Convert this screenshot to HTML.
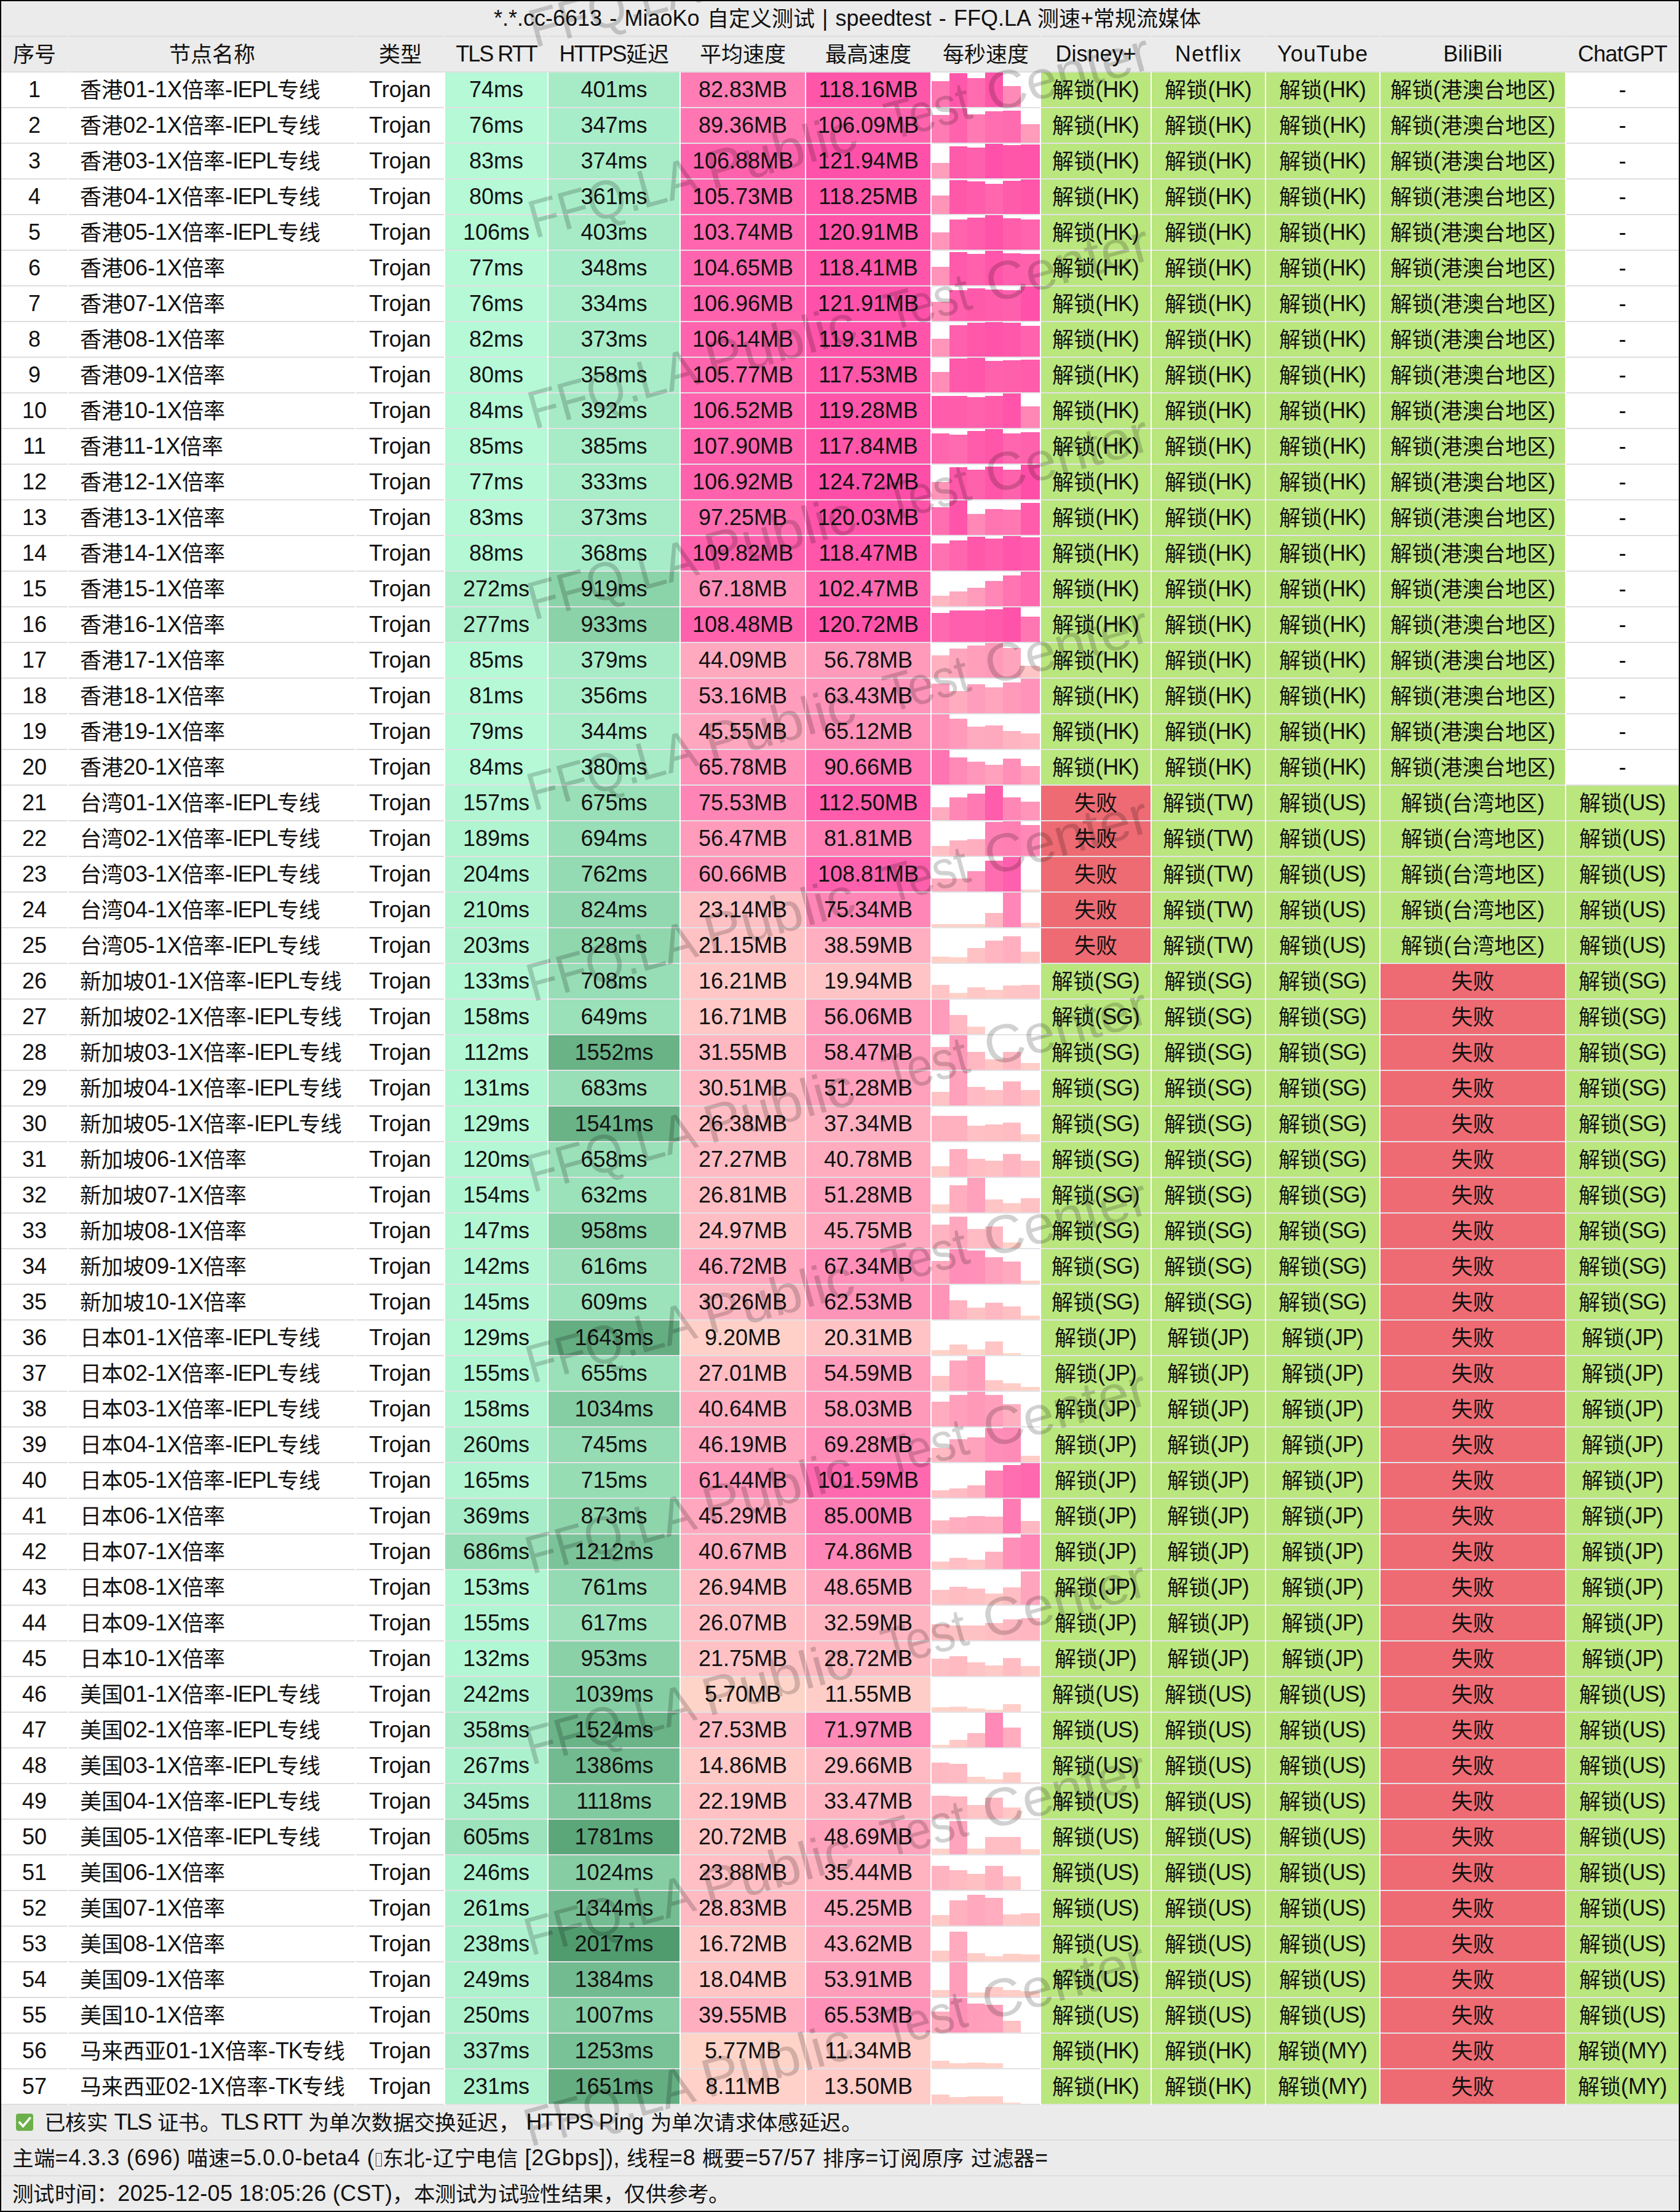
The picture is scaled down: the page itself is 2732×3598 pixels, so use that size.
<!DOCTYPE html><html lang="zh-CN"><head><meta charset="utf-8"><title>speedtest</title><style>
html,body{margin:0;padding:0;background:#000}
#p{position:relative;width:2732px;height:3598px;background:#000;overflow:hidden;font-family:"Liberation Sans",sans-serif;font-size:36px;color:#111;line-height:56px;white-space:nowrap}
#p div{position:absolute}
.g{left:2px;width:2728px;background:#ebebeb}
.w{left:2px;width:2728px;background:#fff;height:58px}
.c{height:56px;text-align:center}
.l{height:2px;background:#dedede}
.n{text-align:left}
.b{bottom:0}
i{font-style:normal;font-size:35px;position:relative;top:1px}
.f i{font-size:34.5px}
b{font-weight:normal;letter-spacing:-1.3px}
u{text-decoration:none;letter-spacing:-2px}
.wm{font-size:79px;line-height:80px;color:rgba(0,0,0,.18);transform-origin:0 100%;transform:rotate(-14.2deg);letter-spacing:3.2px}
</style></head><body><div id="p">
<div class="g" style="top:2px;height:116px"></div>
<div class="w" style="top:118px;height:3306px"></div>
<div class="g" style="top:3424px;height:172px"></div>
<div class="c n" style="left:803px;top:2px;word-spacing:2.2px">*.*.cc-6613 - MiaoKo <i>自定义测试</i> | speedtest - FFQ.LA <i>测速</i>+<i>常规流媒体</i></div>
<div class="l" style="left:2px;width:108px;top:58px;background:#dedede"></div>
<div class="l" style="left:112px;width:465px;top:58px;background:#dedede"></div>
<div class="l" style="left:579px;width:143px;top:58px;background:#dedede"></div>
<div class="l" style="left:724px;width:166px;top:58px;background:#dedede"></div>
<div class="l" style="left:892px;width:213px;top:58px;background:#dedede"></div>
<div class="l" style="left:1107px;width:202px;top:58px;background:#dedede"></div>
<div class="l" style="left:1311px;width:202px;top:58px;background:#dedede"></div>
<div class="l" style="left:1515px;width:176px;top:58px;background:#dedede"></div>
<div class="l" style="left:1693px;width:178px;top:58px;background:#dedede"></div>
<div class="l" style="left:1873px;width:184px;top:58px;background:#dedede"></div>
<div class="l" style="left:2059px;width:184px;top:58px;background:#dedede"></div>
<div class="l" style="left:2245px;width:300px;top:58px;background:#dedede"></div>
<div class="l" style="left:2547px;width:183px;top:58px;background:#dedede"></div>
<div class="c" style="left:2px;width:108px;top:60px"><i>序号</i></div>
<div class="c" style="left:112px;width:465px;top:60px"><i>节点名称</i></div>
<div class="c" style="left:579px;width:143px;top:60px"><i>类型</i></div>
<div class="c" style="left:724px;width:166px;top:60px"><u>TLS RTT</u></div>
<div class="c" style="left:892px;width:213px;top:60px"><u>HTTPS</u><i>延迟</i></div>
<div class="c" style="left:1107px;width:202px;top:60px"><i>平均速度</i></div>
<div class="c" style="left:1311px;width:202px;top:60px"><i>最高速度</i></div>
<div class="c" style="left:1515px;width:176px;top:60px"><i>每秒速度</i></div>
<div class="c" style="left:1693px;width:178px;top:60px">Disney+</div>
<div class="c" style="left:1873px;width:184px;top:60px;letter-spacing:1.2px">Netflix</div>
<div class="c" style="left:2059px;width:184px;top:60px;letter-spacing:0.9px">YouTube</div>
<div class="c" style="left:2245px;width:300px;top:60px">BiliBili</div>
<div class="c" style="left:2547px;width:183px;top:60px;letter-spacing:-0.7px">ChatGPT</div>
<div class="l" style="left:2px;width:108px;top:116px;background:#dedede"></div>
<div class="l" style="left:112px;width:465px;top:116px;background:#dedede"></div>
<div class="l" style="left:579px;width:143px;top:116px;background:#dedede"></div>
<div class="l" style="left:724px;width:166px;top:116px;background:#dedede"></div>
<div class="l" style="left:892px;width:213px;top:116px;background:#dedede"></div>
<div class="l" style="left:1107px;width:202px;top:116px;background:#dedede"></div>
<div class="l" style="left:1311px;width:202px;top:116px;background:#dedede"></div>
<div class="l" style="left:1515px;width:176px;top:116px;background:#dedede"></div>
<div class="l" style="left:1693px;width:178px;top:116px;background:#dedede"></div>
<div class="l" style="left:1873px;width:184px;top:116px;background:#dedede"></div>
<div class="l" style="left:2059px;width:184px;top:116px;background:#dedede"></div>
<div class="l" style="left:2245px;width:300px;top:116px;background:#dedede"></div>
<div class="l" style="left:2547px;width:183px;top:116px;background:#dedede"></div>
<div class="c" style="left:2px;width:108px;top:118px">1</div>
<div class="l" style="left:2px;width:108px;top:174px;background:#dedede"></div>
<div class="c n" style="left:112px;width:465px;top:118px;padding-left:18px;width:447px"><i>香港</i>01-1X<i>倍率</i>-<b>IEPL</b><i>专线</i></div>
<div class="l" style="left:112px;width:465px;top:174px;background:#dedede"></div>
<div class="c" style="left:579px;width:143px;top:118px">Trojan</div>
<div class="l" style="left:579px;width:143px;top:174px;background:#dedede"></div>
<div class="c" style="left:724px;width:166px;top:118px;background:#b5f9d6">74ms</div>
<div class="l" style="left:724px;width:166px;top:174px;background:#e3e1e6"></div>
<div class="c" style="left:892px;width:213px;top:118px;background:#a6ebc6">401ms</div>
<div class="l" style="left:892px;width:213px;top:174px;background:#e3e1e6"></div>
<div class="c" style="left:1107px;width:202px;top:118px;background:#ff7db4">82.83MB</div>
<div class="l" style="left:1107px;width:202px;top:174px;background:#e3e1e6"></div>
<div class="c" style="left:1311px;width:202px;top:118px;background:#ff56aa">118.16MB</div>
<div class="l" style="left:1311px;width:202px;top:174px;background:#e3e1e6"></div>
<div class="c" style="left:1515px;width:176px;top:118px">
<div class="b" style="left:0px;width:29px;height:42px;background:#ff77b2"></div>
<div class="b" style="left:29px;width:29px;height:55px;background:#ff58ab"></div>
<div class="b" style="left:58px;width:29px;height:47px;background:#ff6baf"></div>
<div class="b" style="left:87px;width:29px;height:56px;background:#ff56aa"></div>
<div class="b" style="left:116px;width:29px;height:34px;background:#ff8ab7"></div>
</div>
<div class="l" style="left:1515px;width:176px;top:174px;background:#e3e1e6"></div>
<div class="c" style="left:1693px;width:178px;top:118px;background:#bae67e"><i>解锁</i>(<b>HK</b>)</div>
<div class="l" style="left:1693px;width:178px;top:174px;background:#e3e1e6"></div>
<div class="c" style="left:1873px;width:184px;top:118px;background:#bae67e"><i>解锁</i>(<b>HK</b>)</div>
<div class="l" style="left:1873px;width:184px;top:174px;background:#e3e1e6"></div>
<div class="c" style="left:2059px;width:184px;top:118px;background:#bae67e"><i>解锁</i>(<b>HK</b>)</div>
<div class="l" style="left:2059px;width:184px;top:174px;background:#e3e1e6"></div>
<div class="c" style="left:2245px;width:300px;top:118px;background:#bae67e"><i>解锁</i>(<i>港澳台地区</i>)</div>
<div class="l" style="left:2245px;width:300px;top:174px;background:#e3e1e6"></div>
<div class="c" style="left:2547px;width:183px;top:118px">-</div>
<div class="l" style="left:2547px;width:183px;top:174px;background:#dedede"></div>
<div class="c" style="left:2px;width:108px;top:176px">2</div>
<div class="l" style="left:2px;width:108px;top:232px;background:#dedede"></div>
<div class="c n" style="left:112px;width:465px;top:176px;padding-left:18px;width:447px"><i>香港</i>02-1X<i>倍率</i>-<b>IEPL</b><i>专线</i></div>
<div class="l" style="left:112px;width:465px;top:232px;background:#dedede"></div>
<div class="c" style="left:579px;width:143px;top:176px">Trojan</div>
<div class="l" style="left:579px;width:143px;top:232px;background:#dedede"></div>
<div class="c" style="left:724px;width:166px;top:176px;background:#b5f9d6">76ms</div>
<div class="l" style="left:724px;width:166px;top:232px;background:#e3e1e6"></div>
<div class="c" style="left:892px;width:213px;top:176px;background:#a8edc9">347ms</div>
<div class="l" style="left:892px;width:213px;top:232px;background:#e3e1e6"></div>
<div class="c" style="left:1107px;width:202px;top:176px;background:#ff76b2">89.36MB</div>
<div class="l" style="left:1107px;width:202px;top:232px;background:#e3e1e6"></div>
<div class="c" style="left:1311px;width:202px;top:176px;background:#ff63ad">106.09MB</div>
<div class="l" style="left:1311px;width:202px;top:232px;background:#e3e1e6"></div>
<div class="c" style="left:1515px;width:176px;top:176px">
<div class="b" style="left:0px;width:29px;height:45px;background:#ff7bb3"></div>
<div class="b" style="left:29px;width:29px;height:56px;background:#ff63ad"></div>
<div class="b" style="left:58px;width:29px;height:46px;background:#ff79b3"></div>
<div class="b" style="left:87px;width:29px;height:51px;background:#ff6eb0"></div>
<div class="b" style="left:116px;width:29px;height:52px;background:#ff6baf"></div>
<div class="b" style="left:145px;width:31px;height:30px;background:#ff9bbb"></div>
</div>
<div class="l" style="left:1515px;width:176px;top:232px;background:#e3e1e6"></div>
<div class="c" style="left:1693px;width:178px;top:176px;background:#bae67e"><i>解锁</i>(<b>HK</b>)</div>
<div class="l" style="left:1693px;width:178px;top:232px;background:#e3e1e6"></div>
<div class="c" style="left:1873px;width:184px;top:176px;background:#bae67e"><i>解锁</i>(<b>HK</b>)</div>
<div class="l" style="left:1873px;width:184px;top:232px;background:#e3e1e6"></div>
<div class="c" style="left:2059px;width:184px;top:176px;background:#bae67e"><i>解锁</i>(<b>HK</b>)</div>
<div class="l" style="left:2059px;width:184px;top:232px;background:#e3e1e6"></div>
<div class="c" style="left:2245px;width:300px;top:176px;background:#bae67e"><i>解锁</i>(<i>港澳台地区</i>)</div>
<div class="l" style="left:2245px;width:300px;top:232px;background:#e3e1e6"></div>
<div class="c" style="left:2547px;width:183px;top:176px">-</div>
<div class="l" style="left:2547px;width:183px;top:232px;background:#dedede"></div>
<div class="c" style="left:2px;width:108px;top:234px">3</div>
<div class="l" style="left:2px;width:108px;top:290px;background:#dedede"></div>
<div class="c n" style="left:112px;width:465px;top:234px;padding-left:18px;width:447px"><i>香港</i>03-1X<i>倍率</i>-<b>IEPL</b><i>专线</i></div>
<div class="l" style="left:112px;width:465px;top:290px;background:#dedede"></div>
<div class="c" style="left:579px;width:143px;top:234px">Trojan</div>
<div class="l" style="left:579px;width:143px;top:290px;background:#dedede"></div>
<div class="c" style="left:724px;width:166px;top:234px;background:#b5f9d6">83ms</div>
<div class="l" style="left:724px;width:166px;top:290px;background:#e3e1e6"></div>
<div class="c" style="left:892px;width:213px;top:234px;background:#a7ecc7">374ms</div>
<div class="l" style="left:892px;width:213px;top:290px;background:#e3e1e6"></div>
<div class="c" style="left:1107px;width:202px;top:234px;background:#ff62ad">106.88MB</div>
<div class="l" style="left:1107px;width:202px;top:290px;background:#e3e1e6"></div>
<div class="c" style="left:1311px;width:202px;top:234px;background:#ff51a9">121.94MB</div>
<div class="l" style="left:1311px;width:202px;top:290px;background:#e3e1e6"></div>
<div class="c" style="left:1515px;width:176px;top:234px">
<div class="b" style="left:0px;width:29px;height:25px;background:#ff9ebc"></div>
<div class="b" style="left:29px;width:29px;height:52px;background:#ff5bab"></div>
<div class="b" style="left:58px;width:29px;height:50px;background:#ff60ad"></div>
<div class="b" style="left:87px;width:29px;height:56px;background:#ff51a9"></div>
<div class="b" style="left:116px;width:29px;height:54px;background:#ff56aa"></div>
<div class="b" style="left:145px;width:31px;height:55px;background:#ff54aa"></div>
</div>
<div class="l" style="left:1515px;width:176px;top:290px;background:#e3e1e6"></div>
<div class="c" style="left:1693px;width:178px;top:234px;background:#bae67e"><i>解锁</i>(<b>HK</b>)</div>
<div class="l" style="left:1693px;width:178px;top:290px;background:#e3e1e6"></div>
<div class="c" style="left:1873px;width:184px;top:234px;background:#bae67e"><i>解锁</i>(<b>HK</b>)</div>
<div class="l" style="left:1873px;width:184px;top:290px;background:#e3e1e6"></div>
<div class="c" style="left:2059px;width:184px;top:234px;background:#bae67e"><i>解锁</i>(<b>HK</b>)</div>
<div class="l" style="left:2059px;width:184px;top:290px;background:#e3e1e6"></div>
<div class="c" style="left:2245px;width:300px;top:234px;background:#bae67e"><i>解锁</i>(<i>港澳台地区</i>)</div>
<div class="l" style="left:2245px;width:300px;top:290px;background:#e3e1e6"></div>
<div class="c" style="left:2547px;width:183px;top:234px">-</div>
<div class="l" style="left:2547px;width:183px;top:290px;background:#dedede"></div>
<div class="c" style="left:2px;width:108px;top:292px">4</div>
<div class="l" style="left:2px;width:108px;top:348px;background:#dedede"></div>
<div class="c n" style="left:112px;width:465px;top:292px;padding-left:18px;width:447px"><i>香港</i>04-1X<i>倍率</i>-<b>IEPL</b><i>专线</i></div>
<div class="l" style="left:112px;width:465px;top:348px;background:#dedede"></div>
<div class="c" style="left:579px;width:143px;top:292px">Trojan</div>
<div class="l" style="left:579px;width:143px;top:348px;background:#dedede"></div>
<div class="c" style="left:724px;width:166px;top:292px;background:#b5f9d6">80ms</div>
<div class="l" style="left:724px;width:166px;top:348px;background:#e3e1e6"></div>
<div class="c" style="left:892px;width:213px;top:292px;background:#a8edc8">361ms</div>
<div class="l" style="left:892px;width:213px;top:348px;background:#e3e1e6"></div>
<div class="c" style="left:1107px;width:202px;top:292px;background:#ff64ad">105.73MB</div>
<div class="l" style="left:1107px;width:202px;top:348px;background:#e3e1e6"></div>
<div class="c" style="left:1311px;width:202px;top:292px;background:#ff56aa">118.25MB</div>
<div class="l" style="left:1311px;width:202px;top:348px;background:#e3e1e6"></div>
<div class="c" style="left:1515px;width:176px;top:292px">
<div class="b" style="left:0px;width:29px;height:30px;background:#ff94b9"></div>
<div class="b" style="left:29px;width:29px;height:55px;background:#ff58ab"></div>
<div class="b" style="left:58px;width:29px;height:53px;background:#ff5dac"></div>
<div class="b" style="left:87px;width:29px;height:49px;background:#ff66ae"></div>
<div class="b" style="left:116px;width:29px;height:54px;background:#ff5bab"></div>
<div class="b" style="left:145px;width:31px;height:56px;background:#ff56aa"></div>
</div>
<div class="l" style="left:1515px;width:176px;top:348px;background:#e3e1e6"></div>
<div class="c" style="left:1693px;width:178px;top:292px;background:#bae67e"><i>解锁</i>(<b>HK</b>)</div>
<div class="l" style="left:1693px;width:178px;top:348px;background:#e3e1e6"></div>
<div class="c" style="left:1873px;width:184px;top:292px;background:#bae67e"><i>解锁</i>(<b>HK</b>)</div>
<div class="l" style="left:1873px;width:184px;top:348px;background:#e3e1e6"></div>
<div class="c" style="left:2059px;width:184px;top:292px;background:#bae67e"><i>解锁</i>(<b>HK</b>)</div>
<div class="l" style="left:2059px;width:184px;top:348px;background:#e3e1e6"></div>
<div class="c" style="left:2245px;width:300px;top:292px;background:#bae67e"><i>解锁</i>(<i>港澳台地区</i>)</div>
<div class="l" style="left:2245px;width:300px;top:348px;background:#e3e1e6"></div>
<div class="c" style="left:2547px;width:183px;top:292px">-</div>
<div class="l" style="left:2547px;width:183px;top:348px;background:#dedede"></div>
<div class="c" style="left:2px;width:108px;top:350px">5</div>
<div class="l" style="left:2px;width:108px;top:406px;background:#dedede"></div>
<div class="c n" style="left:112px;width:465px;top:350px;padding-left:18px;width:447px"><i>香港</i>05-1X<i>倍率</i>-<b>IEPL</b><i>专线</i></div>
<div class="l" style="left:112px;width:465px;top:406px;background:#dedede"></div>
<div class="c" style="left:579px;width:143px;top:350px">Trojan</div>
<div class="l" style="left:579px;width:143px;top:406px;background:#dedede"></div>
<div class="c" style="left:724px;width:166px;top:350px;background:#b4f8d4">106ms</div>
<div class="l" style="left:724px;width:166px;top:406px;background:#e3e1e6"></div>
<div class="c" style="left:892px;width:213px;top:350px;background:#a6ebc6">403ms</div>
<div class="l" style="left:892px;width:213px;top:406px;background:#e3e1e6"></div>
<div class="c" style="left:1107px;width:202px;top:350px;background:#ff66ae">103.74MB</div>
<div class="l" style="left:1107px;width:202px;top:406px;background:#e3e1e6"></div>
<div class="c" style="left:1311px;width:202px;top:350px;background:#ff53a9">120.91MB</div>
<div class="l" style="left:1311px;width:202px;top:406px;background:#e3e1e6"></div>
<div class="c" style="left:1515px;width:176px;top:350px">
<div class="b" style="left:0px;width:29px;height:28px;background:#ff96ba"></div>
<div class="b" style="left:29px;width:29px;height:49px;background:#ff64ad"></div>
<div class="b" style="left:58px;width:29px;height:52px;background:#ff5cac"></div>
<div class="b" style="left:87px;width:29px;height:56px;background:#ff53a9"></div>
<div class="b" style="left:116px;width:29px;height:51px;background:#ff5eac"></div>
<div class="b" style="left:145px;width:31px;height:49px;background:#ff64ad"></div>
</div>
<div class="l" style="left:1515px;width:176px;top:406px;background:#e3e1e6"></div>
<div class="c" style="left:1693px;width:178px;top:350px;background:#bae67e"><i>解锁</i>(<b>HK</b>)</div>
<div class="l" style="left:1693px;width:178px;top:406px;background:#e3e1e6"></div>
<div class="c" style="left:1873px;width:184px;top:350px;background:#bae67e"><i>解锁</i>(<b>HK</b>)</div>
<div class="l" style="left:1873px;width:184px;top:406px;background:#e3e1e6"></div>
<div class="c" style="left:2059px;width:184px;top:350px;background:#bae67e"><i>解锁</i>(<b>HK</b>)</div>
<div class="l" style="left:2059px;width:184px;top:406px;background:#e3e1e6"></div>
<div class="c" style="left:2245px;width:300px;top:350px;background:#bae67e"><i>解锁</i>(<i>港澳台地区</i>)</div>
<div class="l" style="left:2245px;width:300px;top:406px;background:#e3e1e6"></div>
<div class="c" style="left:2547px;width:183px;top:350px">-</div>
<div class="l" style="left:2547px;width:183px;top:406px;background:#dedede"></div>
<div class="c" style="left:2px;width:108px;top:408px">6</div>
<div class="l" style="left:2px;width:108px;top:464px;background:#dedede"></div>
<div class="c n" style="left:112px;width:465px;top:408px;padding-left:18px;width:447px"><i>香港</i>06-1X<i>倍率</i></div>
<div class="l" style="left:112px;width:465px;top:464px;background:#dedede"></div>
<div class="c" style="left:579px;width:143px;top:408px">Trojan</div>
<div class="l" style="left:579px;width:143px;top:464px;background:#dedede"></div>
<div class="c" style="left:724px;width:166px;top:408px;background:#b5f9d6">77ms</div>
<div class="l" style="left:724px;width:166px;top:464px;background:#e3e1e6"></div>
<div class="c" style="left:892px;width:213px;top:408px;background:#a8edc9">348ms</div>
<div class="l" style="left:892px;width:213px;top:464px;background:#e3e1e6"></div>
<div class="c" style="left:1107px;width:202px;top:408px;background:#ff65ae">104.65MB</div>
<div class="l" style="left:1107px;width:202px;top:464px;background:#e3e1e6"></div>
<div class="c" style="left:1311px;width:202px;top:408px;background:#ff55aa">118.41MB</div>
<div class="l" style="left:1311px;width:202px;top:464px;background:#e3e1e6"></div>
<div class="c" style="left:1515px;width:176px;top:408px">
<div class="b" style="left:0px;width:29px;height:30px;background:#ff93b9"></div>
<div class="b" style="left:29px;width:29px;height:54px;background:#ff5aab"></div>
<div class="b" style="left:58px;width:29px;height:51px;background:#ff61ad"></div>
<div class="b" style="left:87px;width:29px;height:56px;background:#ff55aa"></div>
<div class="b" style="left:116px;width:29px;height:52px;background:#ff5fac"></div>
<div class="b" style="left:145px;width:31px;height:51px;background:#ff61ad"></div>
</div>
<div class="l" style="left:1515px;width:176px;top:464px;background:#e3e1e6"></div>
<div class="c" style="left:1693px;width:178px;top:408px;background:#bae67e"><i>解锁</i>(<b>HK</b>)</div>
<div class="l" style="left:1693px;width:178px;top:464px;background:#e3e1e6"></div>
<div class="c" style="left:1873px;width:184px;top:408px;background:#bae67e"><i>解锁</i>(<b>HK</b>)</div>
<div class="l" style="left:1873px;width:184px;top:464px;background:#e3e1e6"></div>
<div class="c" style="left:2059px;width:184px;top:408px;background:#bae67e"><i>解锁</i>(<b>HK</b>)</div>
<div class="l" style="left:2059px;width:184px;top:464px;background:#e3e1e6"></div>
<div class="c" style="left:2245px;width:300px;top:408px;background:#bae67e"><i>解锁</i>(<i>港澳台地区</i>)</div>
<div class="l" style="left:2245px;width:300px;top:464px;background:#e3e1e6"></div>
<div class="c" style="left:2547px;width:183px;top:408px">-</div>
<div class="l" style="left:2547px;width:183px;top:464px;background:#dedede"></div>
<div class="c" style="left:2px;width:108px;top:466px">7</div>
<div class="l" style="left:2px;width:108px;top:522px;background:#dedede"></div>
<div class="c n" style="left:112px;width:465px;top:466px;padding-left:18px;width:447px"><i>香港</i>07-1X<i>倍率</i></div>
<div class="l" style="left:112px;width:465px;top:522px;background:#dedede"></div>
<div class="c" style="left:579px;width:143px;top:466px">Trojan</div>
<div class="l" style="left:579px;width:143px;top:522px;background:#dedede"></div>
<div class="c" style="left:724px;width:166px;top:466px;background:#b5f9d6">76ms</div>
<div class="l" style="left:724px;width:166px;top:522px;background:#e3e1e6"></div>
<div class="c" style="left:892px;width:213px;top:466px;background:#a9eec9">334ms</div>
<div class="l" style="left:892px;width:213px;top:522px;background:#e3e1e6"></div>
<div class="c" style="left:1107px;width:202px;top:466px;background:#ff62ad">106.96MB</div>
<div class="l" style="left:1107px;width:202px;top:522px;background:#e3e1e6"></div>
<div class="c" style="left:1311px;width:202px;top:466px;background:#ff51a9">121.91MB</div>
<div class="l" style="left:1311px;width:202px;top:522px;background:#e3e1e6"></div>
<div class="c" style="left:1515px;width:176px;top:466px">
<div class="b" style="left:0px;width:29px;height:31px;background:#ff8fb8"></div>
<div class="b" style="left:29px;width:29px;height:50px;background:#ff5fac"></div>
<div class="b" style="left:58px;width:29px;height:53px;background:#ff59ab"></div>
<div class="b" style="left:87px;width:29px;height:51px;background:#ff5dac"></div>
<div class="b" style="left:116px;width:29px;height:50px;background:#ff60ad"></div>
<div class="b" style="left:145px;width:31px;height:56px;background:#ff51a9"></div>
</div>
<div class="l" style="left:1515px;width:176px;top:522px;background:#e3e1e6"></div>
<div class="c" style="left:1693px;width:178px;top:466px;background:#bae67e"><i>解锁</i>(<b>HK</b>)</div>
<div class="l" style="left:1693px;width:178px;top:522px;background:#e3e1e6"></div>
<div class="c" style="left:1873px;width:184px;top:466px;background:#bae67e"><i>解锁</i>(<b>HK</b>)</div>
<div class="l" style="left:1873px;width:184px;top:522px;background:#e3e1e6"></div>
<div class="c" style="left:2059px;width:184px;top:466px;background:#bae67e"><i>解锁</i>(<b>HK</b>)</div>
<div class="l" style="left:2059px;width:184px;top:522px;background:#e3e1e6"></div>
<div class="c" style="left:2245px;width:300px;top:466px;background:#bae67e"><i>解锁</i>(<i>港澳台地区</i>)</div>
<div class="l" style="left:2245px;width:300px;top:522px;background:#e3e1e6"></div>
<div class="c" style="left:2547px;width:183px;top:466px">-</div>
<div class="l" style="left:2547px;width:183px;top:522px;background:#dedede"></div>
<div class="c" style="left:2px;width:108px;top:524px">8</div>
<div class="l" style="left:2px;width:108px;top:580px;background:#dedede"></div>
<div class="c n" style="left:112px;width:465px;top:524px;padding-left:18px;width:447px"><i>香港</i>08-1X<i>倍率</i></div>
<div class="l" style="left:112px;width:465px;top:580px;background:#dedede"></div>
<div class="c" style="left:579px;width:143px;top:524px">Trojan</div>
<div class="l" style="left:579px;width:143px;top:580px;background:#dedede"></div>
<div class="c" style="left:724px;width:166px;top:524px;background:#b5f9d6">82ms</div>
<div class="l" style="left:724px;width:166px;top:580px;background:#e3e1e6"></div>
<div class="c" style="left:892px;width:213px;top:524px;background:#a7ecc7">373ms</div>
<div class="l" style="left:892px;width:213px;top:580px;background:#e3e1e6"></div>
<div class="c" style="left:1107px;width:202px;top:524px;background:#ff63ad">106.14MB</div>
<div class="l" style="left:1107px;width:202px;top:580px;background:#e3e1e6"></div>
<div class="c" style="left:1311px;width:202px;top:524px;background:#ff54aa">119.31MB</div>
<div class="l" style="left:1311px;width:202px;top:580px;background:#e3e1e6"></div>
<div class="c" style="left:1515px;width:176px;top:524px">
<div class="b" style="left:0px;width:29px;height:29px;background:#ff95b9"></div>
<div class="b" style="left:29px;width:29px;height:51px;background:#ff60ad"></div>
<div class="b" style="left:58px;width:29px;height:55px;background:#ff57aa"></div>
<div class="b" style="left:87px;width:29px;height:56px;background:#ff54aa"></div>
<div class="b" style="left:116px;width:29px;height:55px;background:#ff57aa"></div>
<div class="b" style="left:145px;width:31px;height:50px;background:#ff63ad"></div>
</div>
<div class="l" style="left:1515px;width:176px;top:580px;background:#e3e1e6"></div>
<div class="c" style="left:1693px;width:178px;top:524px;background:#bae67e"><i>解锁</i>(<b>HK</b>)</div>
<div class="l" style="left:1693px;width:178px;top:580px;background:#e3e1e6"></div>
<div class="c" style="left:1873px;width:184px;top:524px;background:#bae67e"><i>解锁</i>(<b>HK</b>)</div>
<div class="l" style="left:1873px;width:184px;top:580px;background:#e3e1e6"></div>
<div class="c" style="left:2059px;width:184px;top:524px;background:#bae67e"><i>解锁</i>(<b>HK</b>)</div>
<div class="l" style="left:2059px;width:184px;top:580px;background:#e3e1e6"></div>
<div class="c" style="left:2245px;width:300px;top:524px;background:#bae67e"><i>解锁</i>(<i>港澳台地区</i>)</div>
<div class="l" style="left:2245px;width:300px;top:580px;background:#e3e1e6"></div>
<div class="c" style="left:2547px;width:183px;top:524px">-</div>
<div class="l" style="left:2547px;width:183px;top:580px;background:#dedede"></div>
<div class="c" style="left:2px;width:108px;top:582px">9</div>
<div class="l" style="left:2px;width:108px;top:638px;background:#dedede"></div>
<div class="c n" style="left:112px;width:465px;top:582px;padding-left:18px;width:447px"><i>香港</i>09-1X<i>倍率</i></div>
<div class="l" style="left:112px;width:465px;top:638px;background:#dedede"></div>
<div class="c" style="left:579px;width:143px;top:582px">Trojan</div>
<div class="l" style="left:579px;width:143px;top:638px;background:#dedede"></div>
<div class="c" style="left:724px;width:166px;top:582px;background:#b5f9d6">80ms</div>
<div class="l" style="left:724px;width:166px;top:638px;background:#e3e1e6"></div>
<div class="c" style="left:892px;width:213px;top:582px;background:#a8edc8">358ms</div>
<div class="l" style="left:892px;width:213px;top:638px;background:#e3e1e6"></div>
<div class="c" style="left:1107px;width:202px;top:582px;background:#ff64ad">105.77MB</div>
<div class="l" style="left:1107px;width:202px;top:638px;background:#e3e1e6"></div>
<div class="c" style="left:1311px;width:202px;top:582px;background:#ff56aa">117.53MB</div>
<div class="l" style="left:1311px;width:202px;top:638px;background:#e3e1e6"></div>
<div class="c" style="left:1515px;width:176px;top:582px">
<div class="b" style="left:0px;width:29px;height:33px;background:#ff8db7"></div>
<div class="b" style="left:29px;width:29px;height:55px;background:#ff59ab"></div>
<div class="b" style="left:58px;width:29px;height:56px;background:#ff56aa"></div>
<div class="b" style="left:87px;width:29px;height:51px;background:#ff62ad"></div>
<div class="b" style="left:116px;width:29px;height:52px;background:#ff60ac"></div>
<div class="b" style="left:145px;width:31px;height:53px;background:#ff5dac"></div>
</div>
<div class="l" style="left:1515px;width:176px;top:638px;background:#e3e1e6"></div>
<div class="c" style="left:1693px;width:178px;top:582px;background:#bae67e"><i>解锁</i>(<b>HK</b>)</div>
<div class="l" style="left:1693px;width:178px;top:638px;background:#e3e1e6"></div>
<div class="c" style="left:1873px;width:184px;top:582px;background:#bae67e"><i>解锁</i>(<b>HK</b>)</div>
<div class="l" style="left:1873px;width:184px;top:638px;background:#e3e1e6"></div>
<div class="c" style="left:2059px;width:184px;top:582px;background:#bae67e"><i>解锁</i>(<b>HK</b>)</div>
<div class="l" style="left:2059px;width:184px;top:638px;background:#e3e1e6"></div>
<div class="c" style="left:2245px;width:300px;top:582px;background:#bae67e"><i>解锁</i>(<i>港澳台地区</i>)</div>
<div class="l" style="left:2245px;width:300px;top:638px;background:#e3e1e6"></div>
<div class="c" style="left:2547px;width:183px;top:582px">-</div>
<div class="l" style="left:2547px;width:183px;top:638px;background:#dedede"></div>
<div class="c" style="left:2px;width:108px;top:640px">10</div>
<div class="l" style="left:2px;width:108px;top:696px;background:#dedede"></div>
<div class="c n" style="left:112px;width:465px;top:640px;padding-left:18px;width:447px"><i>香港</i>10-1X<i>倍率</i></div>
<div class="l" style="left:112px;width:465px;top:696px;background:#dedede"></div>
<div class="c" style="left:579px;width:143px;top:640px">Trojan</div>
<div class="l" style="left:579px;width:143px;top:696px;background:#dedede"></div>
<div class="c" style="left:724px;width:166px;top:640px;background:#b5f9d6">84ms</div>
<div class="l" style="left:724px;width:166px;top:696px;background:#e3e1e6"></div>
<div class="c" style="left:892px;width:213px;top:640px;background:#a6ebc6">392ms</div>
<div class="l" style="left:892px;width:213px;top:696px;background:#e3e1e6"></div>
<div class="c" style="left:1107px;width:202px;top:640px;background:#ff63ad">106.52MB</div>
<div class="l" style="left:1107px;width:202px;top:696px;background:#e3e1e6"></div>
<div class="c" style="left:1311px;width:202px;top:640px;background:#ff54aa">119.28MB</div>
<div class="l" style="left:1311px;width:202px;top:696px;background:#e3e1e6"></div>
<div class="c" style="left:1515px;width:176px;top:640px">
<div class="b" style="left:0px;width:29px;height:52px;background:#ff5dac"></div>
<div class="b" style="left:29px;width:29px;height:52px;background:#ff5dac"></div>
<div class="b" style="left:58px;width:29px;height:50px;background:#ff62ad"></div>
<div class="b" style="left:87px;width:29px;height:52px;background:#ff5dac"></div>
<div class="b" style="left:116px;width:29px;height:56px;background:#ff54aa"></div>
<div class="b" style="left:145px;width:31px;height:35px;background:#ff87b6"></div>
</div>
<div class="l" style="left:1515px;width:176px;top:696px;background:#e3e1e6"></div>
<div class="c" style="left:1693px;width:178px;top:640px;background:#bae67e"><i>解锁</i>(<b>HK</b>)</div>
<div class="l" style="left:1693px;width:178px;top:696px;background:#e3e1e6"></div>
<div class="c" style="left:1873px;width:184px;top:640px;background:#bae67e"><i>解锁</i>(<b>HK</b>)</div>
<div class="l" style="left:1873px;width:184px;top:696px;background:#e3e1e6"></div>
<div class="c" style="left:2059px;width:184px;top:640px;background:#bae67e"><i>解锁</i>(<b>HK</b>)</div>
<div class="l" style="left:2059px;width:184px;top:696px;background:#e3e1e6"></div>
<div class="c" style="left:2245px;width:300px;top:640px;background:#bae67e"><i>解锁</i>(<i>港澳台地区</i>)</div>
<div class="l" style="left:2245px;width:300px;top:696px;background:#e3e1e6"></div>
<div class="c" style="left:2547px;width:183px;top:640px">-</div>
<div class="l" style="left:2547px;width:183px;top:696px;background:#dedede"></div>
<div class="c" style="left:2px;width:108px;top:698px">11</div>
<div class="l" style="left:2px;width:108px;top:754px;background:#dedede"></div>
<div class="c n" style="left:112px;width:465px;top:698px;padding-left:18px;width:447px"><i>香港</i>11-1X<i>倍率</i></div>
<div class="l" style="left:112px;width:465px;top:754px;background:#dedede"></div>
<div class="c" style="left:579px;width:143px;top:698px">Trojan</div>
<div class="l" style="left:579px;width:143px;top:754px;background:#dedede"></div>
<div class="c" style="left:724px;width:166px;top:698px;background:#b5f9d6">85ms</div>
<div class="l" style="left:724px;width:166px;top:754px;background:#e3e1e6"></div>
<div class="c" style="left:892px;width:213px;top:698px;background:#a7ecc7">385ms</div>
<div class="l" style="left:892px;width:213px;top:754px;background:#e3e1e6"></div>
<div class="c" style="left:1107px;width:202px;top:698px;background:#ff61ad">107.90MB</div>
<div class="l" style="left:1107px;width:202px;top:754px;background:#e3e1e6"></div>
<div class="c" style="left:1311px;width:202px;top:698px;background:#ff56aa">117.84MB</div>
<div class="l" style="left:1311px;width:202px;top:754px;background:#e3e1e6"></div>
<div class="c" style="left:1515px;width:176px;top:698px">
<div class="b" style="left:0px;width:29px;height:49px;background:#ff66ae"></div>
<div class="b" style="left:29px;width:29px;height:47px;background:#ff6baf"></div>
<div class="b" style="left:58px;width:29px;height:53px;background:#ff5dac"></div>
<div class="b" style="left:87px;width:29px;height:56px;background:#ff56aa"></div>
<div class="b" style="left:116px;width:29px;height:49px;background:#ff66ae"></div>
<div class="b" style="left:145px;width:31px;height:51px;background:#ff62ad"></div>
</div>
<div class="l" style="left:1515px;width:176px;top:754px;background:#e3e1e6"></div>
<div class="c" style="left:1693px;width:178px;top:698px;background:#bae67e"><i>解锁</i>(<b>HK</b>)</div>
<div class="l" style="left:1693px;width:178px;top:754px;background:#e3e1e6"></div>
<div class="c" style="left:1873px;width:184px;top:698px;background:#bae67e"><i>解锁</i>(<b>HK</b>)</div>
<div class="l" style="left:1873px;width:184px;top:754px;background:#e3e1e6"></div>
<div class="c" style="left:2059px;width:184px;top:698px;background:#bae67e"><i>解锁</i>(<b>HK</b>)</div>
<div class="l" style="left:2059px;width:184px;top:754px;background:#e3e1e6"></div>
<div class="c" style="left:2245px;width:300px;top:698px;background:#bae67e"><i>解锁</i>(<i>港澳台地区</i>)</div>
<div class="l" style="left:2245px;width:300px;top:754px;background:#e3e1e6"></div>
<div class="c" style="left:2547px;width:183px;top:698px">-</div>
<div class="l" style="left:2547px;width:183px;top:754px;background:#dedede"></div>
<div class="c" style="left:2px;width:108px;top:756px">12</div>
<div class="l" style="left:2px;width:108px;top:812px;background:#dedede"></div>
<div class="c n" style="left:112px;width:465px;top:756px;padding-left:18px;width:447px"><i>香港</i>12-1X<i>倍率</i></div>
<div class="l" style="left:112px;width:465px;top:812px;background:#dedede"></div>
<div class="c" style="left:579px;width:143px;top:756px">Trojan</div>
<div class="l" style="left:579px;width:143px;top:812px;background:#dedede"></div>
<div class="c" style="left:724px;width:166px;top:756px;background:#b5f9d6">77ms</div>
<div class="l" style="left:724px;width:166px;top:812px;background:#e3e1e6"></div>
<div class="c" style="left:892px;width:213px;top:756px;background:#a9eec9">333ms</div>
<div class="l" style="left:892px;width:213px;top:812px;background:#e3e1e6"></div>
<div class="c" style="left:1107px;width:202px;top:756px;background:#ff62ad">106.92MB</div>
<div class="l" style="left:1107px;width:202px;top:812px;background:#e3e1e6"></div>
<div class="c" style="left:1311px;width:202px;top:756px;background:#ff4ea8">124.72MB</div>
<div class="l" style="left:1311px;width:202px;top:812px;background:#e3e1e6"></div>
<div class="c" style="left:1515px;width:176px;top:756px">
<div class="b" style="left:0px;width:29px;height:28px;background:#ff94b9"></div>
<div class="b" style="left:29px;width:29px;height:52px;background:#ff58ab"></div>
<div class="b" style="left:58px;width:29px;height:48px;background:#ff62ad"></div>
<div class="b" style="left:87px;width:29px;height:53px;background:#ff56aa"></div>
<div class="b" style="left:116px;width:29px;height:48px;background:#ff62ad"></div>
<div class="b" style="left:145px;width:31px;height:56px;background:#ff4ea8"></div>
</div>
<div class="l" style="left:1515px;width:176px;top:812px;background:#e3e1e6"></div>
<div class="c" style="left:1693px;width:178px;top:756px;background:#bae67e"><i>解锁</i>(<b>HK</b>)</div>
<div class="l" style="left:1693px;width:178px;top:812px;background:#e3e1e6"></div>
<div class="c" style="left:1873px;width:184px;top:756px;background:#bae67e"><i>解锁</i>(<b>HK</b>)</div>
<div class="l" style="left:1873px;width:184px;top:812px;background:#e3e1e6"></div>
<div class="c" style="left:2059px;width:184px;top:756px;background:#bae67e"><i>解锁</i>(<b>HK</b>)</div>
<div class="l" style="left:2059px;width:184px;top:812px;background:#e3e1e6"></div>
<div class="c" style="left:2245px;width:300px;top:756px;background:#bae67e"><i>解锁</i>(<i>港澳台地区</i>)</div>
<div class="l" style="left:2245px;width:300px;top:812px;background:#e3e1e6"></div>
<div class="c" style="left:2547px;width:183px;top:756px">-</div>
<div class="l" style="left:2547px;width:183px;top:812px;background:#dedede"></div>
<div class="c" style="left:2px;width:108px;top:814px">13</div>
<div class="l" style="left:2px;width:108px;top:870px;background:#dedede"></div>
<div class="c n" style="left:112px;width:465px;top:814px;padding-left:18px;width:447px"><i>香港</i>13-1X<i>倍率</i></div>
<div class="l" style="left:112px;width:465px;top:870px;background:#dedede"></div>
<div class="c" style="left:579px;width:143px;top:814px">Trojan</div>
<div class="l" style="left:579px;width:143px;top:870px;background:#dedede"></div>
<div class="c" style="left:724px;width:166px;top:814px;background:#b5f9d6">83ms</div>
<div class="l" style="left:724px;width:166px;top:870px;background:#e3e1e6"></div>
<div class="c" style="left:892px;width:213px;top:814px;background:#a7ecc7">373ms</div>
<div class="l" style="left:892px;width:213px;top:870px;background:#e3e1e6"></div>
<div class="c" style="left:1107px;width:202px;top:814px;background:#ff6db0">97.25MB</div>
<div class="l" style="left:1107px;width:202px;top:870px;background:#e3e1e6"></div>
<div class="c" style="left:1311px;width:202px;top:814px;background:#ff54aa">120.03MB</div>
<div class="l" style="left:1311px;width:202px;top:870px;background:#e3e1e6"></div>
<div class="c" style="left:1515px;width:176px;top:814px">
<div class="b" style="left:0px;width:29px;height:45px;background:#ff6eb0"></div>
<div class="b" style="left:29px;width:29px;height:56px;background:#ff54aa"></div>
<div class="b" style="left:58px;width:29px;height:34px;background:#ff88b6"></div>
<div class="b" style="left:87px;width:29px;height:42px;background:#ff75b2"></div>
<div class="b" style="left:116px;width:29px;height:41px;background:#ff78b2"></div>
<div class="b" style="left:145px;width:31px;height:52px;background:#ff5dac"></div>
</div>
<div class="l" style="left:1515px;width:176px;top:870px;background:#e3e1e6"></div>
<div class="c" style="left:1693px;width:178px;top:814px;background:#bae67e"><i>解锁</i>(<b>HK</b>)</div>
<div class="l" style="left:1693px;width:178px;top:870px;background:#e3e1e6"></div>
<div class="c" style="left:1873px;width:184px;top:814px;background:#bae67e"><i>解锁</i>(<b>HK</b>)</div>
<div class="l" style="left:1873px;width:184px;top:870px;background:#e3e1e6"></div>
<div class="c" style="left:2059px;width:184px;top:814px;background:#bae67e"><i>解锁</i>(<b>HK</b>)</div>
<div class="l" style="left:2059px;width:184px;top:870px;background:#e3e1e6"></div>
<div class="c" style="left:2245px;width:300px;top:814px;background:#bae67e"><i>解锁</i>(<i>港澳台地区</i>)</div>
<div class="l" style="left:2245px;width:300px;top:870px;background:#e3e1e6"></div>
<div class="c" style="left:2547px;width:183px;top:814px">-</div>
<div class="l" style="left:2547px;width:183px;top:870px;background:#dedede"></div>
<div class="c" style="left:2px;width:108px;top:872px">14</div>
<div class="l" style="left:2px;width:108px;top:928px;background:#dedede"></div>
<div class="c n" style="left:112px;width:465px;top:872px;padding-left:18px;width:447px"><i>香港</i>14-1X<i>倍率</i></div>
<div class="l" style="left:112px;width:465px;top:928px;background:#dedede"></div>
<div class="c" style="left:579px;width:143px;top:872px">Trojan</div>
<div class="l" style="left:579px;width:143px;top:928px;background:#dedede"></div>
<div class="c" style="left:724px;width:166px;top:872px;background:#b4f8d5">88ms</div>
<div class="l" style="left:724px;width:166px;top:928px;background:#e3e1e6"></div>
<div class="c" style="left:892px;width:213px;top:872px;background:#a7ecc8">368ms</div>
<div class="l" style="left:892px;width:213px;top:928px;background:#e3e1e6"></div>
<div class="c" style="left:1107px;width:202px;top:872px;background:#ff5fac">109.82MB</div>
<div class="l" style="left:1107px;width:202px;top:928px;background:#e3e1e6"></div>
<div class="c" style="left:1311px;width:202px;top:872px;background:#ff55aa">118.47MB</div>
<div class="l" style="left:1311px;width:202px;top:928px;background:#e3e1e6"></div>
<div class="c" style="left:1515px;width:176px;top:872px">
<div class="b" style="left:0px;width:29px;height:44px;background:#ff72b1"></div>
<div class="b" style="left:29px;width:29px;height:49px;background:#ff66ae"></div>
<div class="b" style="left:58px;width:29px;height:55px;background:#ff58ab"></div>
<div class="b" style="left:87px;width:29px;height:52px;background:#ff5fac"></div>
<div class="b" style="left:116px;width:29px;height:56px;background:#ff55aa"></div>
<div class="b" style="left:145px;width:31px;height:54px;background:#ff5aab"></div>
</div>
<div class="l" style="left:1515px;width:176px;top:928px;background:#e3e1e6"></div>
<div class="c" style="left:1693px;width:178px;top:872px;background:#bae67e"><i>解锁</i>(<b>HK</b>)</div>
<div class="l" style="left:1693px;width:178px;top:928px;background:#e3e1e6"></div>
<div class="c" style="left:1873px;width:184px;top:872px;background:#bae67e"><i>解锁</i>(<b>HK</b>)</div>
<div class="l" style="left:1873px;width:184px;top:928px;background:#e3e1e6"></div>
<div class="c" style="left:2059px;width:184px;top:872px;background:#bae67e"><i>解锁</i>(<b>HK</b>)</div>
<div class="l" style="left:2059px;width:184px;top:928px;background:#e3e1e6"></div>
<div class="c" style="left:2245px;width:300px;top:872px;background:#bae67e"><i>解锁</i>(<i>港澳台地区</i>)</div>
<div class="l" style="left:2245px;width:300px;top:928px;background:#e3e1e6"></div>
<div class="c" style="left:2547px;width:183px;top:872px">-</div>
<div class="l" style="left:2547px;width:183px;top:928px;background:#dedede"></div>
<div class="c" style="left:2px;width:108px;top:930px">15</div>
<div class="l" style="left:2px;width:108px;top:986px;background:#dedede"></div>
<div class="c n" style="left:112px;width:465px;top:930px;padding-left:18px;width:447px"><i>香港</i>15-1X<i>倍率</i></div>
<div class="l" style="left:112px;width:465px;top:986px;background:#dedede"></div>
<div class="c" style="left:579px;width:143px;top:930px">Trojan</div>
<div class="l" style="left:579px;width:143px;top:986px;background:#dedede"></div>
<div class="c" style="left:724px;width:166px;top:930px;background:#acf1cc">272ms</div>
<div class="l" style="left:724px;width:166px;top:986px;background:#e3e1e6"></div>
<div class="c" style="left:892px;width:213px;top:930px;background:#8bd3a9">919ms</div>
<div class="l" style="left:892px;width:213px;top:986px;background:#e3e1e6"></div>
<div class="c" style="left:1107px;width:202px;top:930px;background:#ff8fb8">67.18MB</div>
<div class="l" style="left:1107px;width:202px;top:986px;background:#e3e1e6"></div>
<div class="c" style="left:1311px;width:202px;top:930px;background:#ff67ae">102.47MB</div>
<div class="l" style="left:1311px;width:202px;top:986px;background:#e3e1e6"></div>
<div class="c" style="left:1515px;width:176px;top:930px">
<div class="b" style="left:0px;width:29px;height:17px;background:#ffb7c2"></div>
<div class="b" style="left:29px;width:29px;height:24px;background:#ffa9be"></div>
<div class="b" style="left:58px;width:29px;height:30px;background:#ff9cbb"></div>
<div class="b" style="left:87px;width:29px;height:41px;background:#ff86b6"></div>
<div class="b" style="left:116px;width:29px;height:50px;background:#ff74b1"></div>
<div class="b" style="left:145px;width:31px;height:56px;background:#ff67ae"></div>
</div>
<div class="l" style="left:1515px;width:176px;top:986px;background:#e3e1e6"></div>
<div class="c" style="left:1693px;width:178px;top:930px;background:#bae67e"><i>解锁</i>(<b>HK</b>)</div>
<div class="l" style="left:1693px;width:178px;top:986px;background:#e3e1e6"></div>
<div class="c" style="left:1873px;width:184px;top:930px;background:#bae67e"><i>解锁</i>(<b>HK</b>)</div>
<div class="l" style="left:1873px;width:184px;top:986px;background:#e3e1e6"></div>
<div class="c" style="left:2059px;width:184px;top:930px;background:#bae67e"><i>解锁</i>(<b>HK</b>)</div>
<div class="l" style="left:2059px;width:184px;top:986px;background:#e3e1e6"></div>
<div class="c" style="left:2245px;width:300px;top:930px;background:#bae67e"><i>解锁</i>(<i>港澳台地区</i>)</div>
<div class="l" style="left:2245px;width:300px;top:986px;background:#e3e1e6"></div>
<div class="c" style="left:2547px;width:183px;top:930px">-</div>
<div class="l" style="left:2547px;width:183px;top:986px;background:#dedede"></div>
<div class="c" style="left:2px;width:108px;top:988px">16</div>
<div class="l" style="left:2px;width:108px;top:1044px;background:#dedede"></div>
<div class="c n" style="left:112px;width:465px;top:988px;padding-left:18px;width:447px"><i>香港</i>16-1X<i>倍率</i></div>
<div class="l" style="left:112px;width:465px;top:1044px;background:#dedede"></div>
<div class="c" style="left:579px;width:143px;top:988px">Trojan</div>
<div class="l" style="left:579px;width:143px;top:1044px;background:#dedede"></div>
<div class="c" style="left:724px;width:166px;top:988px;background:#acf0cc">277ms</div>
<div class="l" style="left:724px;width:166px;top:1044px;background:#e3e1e6"></div>
<div class="c" style="left:892px;width:213px;top:988px;background:#8bd2a9">933ms</div>
<div class="l" style="left:892px;width:213px;top:1044px;background:#e3e1e6"></div>
<div class="c" style="left:1107px;width:202px;top:988px;background:#ff61ad">108.48MB</div>
<div class="l" style="left:1107px;width:202px;top:1044px;background:#e3e1e6"></div>
<div class="c" style="left:1311px;width:202px;top:988px;background:#ff53a9">120.72MB</div>
<div class="l" style="left:1311px;width:202px;top:1044px;background:#e3e1e6"></div>
<div class="c" style="left:1515px;width:176px;top:988px">
<div class="b" style="left:0px;width:29px;height:47px;background:#ff69af"></div>
<div class="b" style="left:29px;width:29px;height:51px;background:#ff5fac"></div>
<div class="b" style="left:58px;width:29px;height:51px;background:#ff5fac"></div>
<div class="b" style="left:87px;width:29px;height:53px;background:#ff5aab"></div>
<div class="b" style="left:116px;width:29px;height:56px;background:#ff53a9"></div>
<div class="b" style="left:145px;width:31px;height:41px;background:#ff77b2"></div>
</div>
<div class="l" style="left:1515px;width:176px;top:1044px;background:#e3e1e6"></div>
<div class="c" style="left:1693px;width:178px;top:988px;background:#bae67e"><i>解锁</i>(<b>HK</b>)</div>
<div class="l" style="left:1693px;width:178px;top:1044px;background:#e3e1e6"></div>
<div class="c" style="left:1873px;width:184px;top:988px;background:#bae67e"><i>解锁</i>(<b>HK</b>)</div>
<div class="l" style="left:1873px;width:184px;top:1044px;background:#e3e1e6"></div>
<div class="c" style="left:2059px;width:184px;top:988px;background:#bae67e"><i>解锁</i>(<b>HK</b>)</div>
<div class="l" style="left:2059px;width:184px;top:1044px;background:#e3e1e6"></div>
<div class="c" style="left:2245px;width:300px;top:988px;background:#bae67e"><i>解锁</i>(<i>港澳台地区</i>)</div>
<div class="l" style="left:2245px;width:300px;top:1044px;background:#e3e1e6"></div>
<div class="c" style="left:2547px;width:183px;top:988px">-</div>
<div class="l" style="left:2547px;width:183px;top:1044px;background:#dedede"></div>
<div class="c" style="left:2px;width:108px;top:1046px">17</div>
<div class="l" style="left:2px;width:108px;top:1102px;background:#dedede"></div>
<div class="c n" style="left:112px;width:465px;top:1046px;padding-left:18px;width:447px"><i>香港</i>17-1X<i>倍率</i></div>
<div class="l" style="left:112px;width:465px;top:1102px;background:#dedede"></div>
<div class="c" style="left:579px;width:143px;top:1046px">Trojan</div>
<div class="l" style="left:579px;width:143px;top:1102px;background:#dedede"></div>
<div class="c" style="left:724px;width:166px;top:1046px;background:#b5f9d6">85ms</div>
<div class="l" style="left:724px;width:166px;top:1102px;background:#e3e1e6"></div>
<div class="c" style="left:892px;width:213px;top:1046px;background:#a7ecc7">379ms</div>
<div class="l" style="left:892px;width:213px;top:1102px;background:#e3e1e6"></div>
<div class="c" style="left:1107px;width:202px;top:1046px;background:#ffa9be">44.09MB</div>
<div class="l" style="left:1107px;width:202px;top:1102px;background:#e3e1e6"></div>
<div class="c" style="left:1311px;width:202px;top:1046px;background:#ff9abb">56.78MB</div>
<div class="l" style="left:1311px;width:202px;top:1102px;background:#e3e1e6"></div>
<div class="c" style="left:1515px;width:176px;top:1046px">
<div class="b" style="left:0px;width:29px;height:36px;background:#ffb1c0"></div>
<div class="b" style="left:29px;width:29px;height:47px;background:#ffa5bd"></div>
<div class="b" style="left:58px;width:29px;height:52px;background:#ff9fbc"></div>
<div class="b" style="left:87px;width:29px;height:56px;background:#ff9abb"></div>
<div class="b" style="left:116px;width:29px;height:48px;background:#ffa4bd"></div>
<div class="b" style="left:145px;width:31px;height:19px;background:#ffc4c5"></div>
</div>
<div class="l" style="left:1515px;width:176px;top:1102px;background:#e3e1e6"></div>
<div class="c" style="left:1693px;width:178px;top:1046px;background:#bae67e"><i>解锁</i>(<b>HK</b>)</div>
<div class="l" style="left:1693px;width:178px;top:1102px;background:#e3e1e6"></div>
<div class="c" style="left:1873px;width:184px;top:1046px;background:#bae67e"><i>解锁</i>(<b>HK</b>)</div>
<div class="l" style="left:1873px;width:184px;top:1102px;background:#e3e1e6"></div>
<div class="c" style="left:2059px;width:184px;top:1046px;background:#bae67e"><i>解锁</i>(<b>HK</b>)</div>
<div class="l" style="left:2059px;width:184px;top:1102px;background:#e3e1e6"></div>
<div class="c" style="left:2245px;width:300px;top:1046px;background:#bae67e"><i>解锁</i>(<i>港澳台地区</i>)</div>
<div class="l" style="left:2245px;width:300px;top:1102px;background:#e3e1e6"></div>
<div class="c" style="left:2547px;width:183px;top:1046px">-</div>
<div class="l" style="left:2547px;width:183px;top:1102px;background:#dedede"></div>
<div class="c" style="left:2px;width:108px;top:1104px">18</div>
<div class="l" style="left:2px;width:108px;top:1160px;background:#dedede"></div>
<div class="c n" style="left:112px;width:465px;top:1104px;padding-left:18px;width:447px"><i>香港</i>18-1X<i>倍率</i></div>
<div class="l" style="left:112px;width:465px;top:1160px;background:#dedede"></div>
<div class="c" style="left:579px;width:143px;top:1104px">Trojan</div>
<div class="l" style="left:579px;width:143px;top:1160px;background:#dedede"></div>
<div class="c" style="left:724px;width:166px;top:1104px;background:#b5f9d6">81ms</div>
<div class="l" style="left:724px;width:166px;top:1160px;background:#e3e1e6"></div>
<div class="c" style="left:892px;width:213px;top:1104px;background:#a8edc8">356ms</div>
<div class="l" style="left:892px;width:213px;top:1160px;background:#e3e1e6"></div>
<div class="c" style="left:1107px;width:202px;top:1104px;background:#ff9ebc">53.16MB</div>
<div class="l" style="left:1107px;width:202px;top:1160px;background:#e3e1e6"></div>
<div class="c" style="left:1311px;width:202px;top:1104px;background:#ff93b9">63.43MB</div>
<div class="l" style="left:1311px;width:202px;top:1160px;background:#e3e1e6"></div>
<div class="c" style="left:1515px;width:176px;top:1104px">
<div class="b" style="left:0px;width:29px;height:48px;background:#ff9dbb"></div>
<div class="b" style="left:29px;width:29px;height:36px;background:#ffacbf"></div>
<div class="b" style="left:58px;width:29px;height:47px;background:#ff9ebc"></div>
<div class="b" style="left:87px;width:29px;height:42px;background:#ffa5bd"></div>
<div class="b" style="left:116px;width:29px;height:50px;background:#ff9abb"></div>
<div class="b" style="left:145px;width:31px;height:56px;background:#ff93b9"></div>
</div>
<div class="l" style="left:1515px;width:176px;top:1160px;background:#e3e1e6"></div>
<div class="c" style="left:1693px;width:178px;top:1104px;background:#bae67e"><i>解锁</i>(<b>HK</b>)</div>
<div class="l" style="left:1693px;width:178px;top:1160px;background:#e3e1e6"></div>
<div class="c" style="left:1873px;width:184px;top:1104px;background:#bae67e"><i>解锁</i>(<b>HK</b>)</div>
<div class="l" style="left:1873px;width:184px;top:1160px;background:#e3e1e6"></div>
<div class="c" style="left:2059px;width:184px;top:1104px;background:#bae67e"><i>解锁</i>(<b>HK</b>)</div>
<div class="l" style="left:2059px;width:184px;top:1160px;background:#e3e1e6"></div>
<div class="c" style="left:2245px;width:300px;top:1104px;background:#bae67e"><i>解锁</i>(<i>港澳台地区</i>)</div>
<div class="l" style="left:2245px;width:300px;top:1160px;background:#e3e1e6"></div>
<div class="c" style="left:2547px;width:183px;top:1104px">-</div>
<div class="l" style="left:2547px;width:183px;top:1160px;background:#dedede"></div>
<div class="c" style="left:2px;width:108px;top:1162px">19</div>
<div class="l" style="left:2px;width:108px;top:1218px;background:#dedede"></div>
<div class="c n" style="left:112px;width:465px;top:1162px;padding-left:18px;width:447px"><i>香港</i>19-1X<i>倍率</i></div>
<div class="l" style="left:112px;width:465px;top:1218px;background:#dedede"></div>
<div class="c" style="left:579px;width:143px;top:1162px">Trojan</div>
<div class="l" style="left:579px;width:143px;top:1218px;background:#dedede"></div>
<div class="c" style="left:724px;width:166px;top:1162px;background:#b5f9d6">79ms</div>
<div class="l" style="left:724px;width:166px;top:1218px;background:#e3e1e6"></div>
<div class="c" style="left:892px;width:213px;top:1162px;background:#a9edc9">344ms</div>
<div class="l" style="left:892px;width:213px;top:1218px;background:#e3e1e6"></div>
<div class="c" style="left:1107px;width:202px;top:1162px;background:#ffa7be">45.55MB</div>
<div class="l" style="left:1107px;width:202px;top:1218px;background:#e3e1e6"></div>
<div class="c" style="left:1311px;width:202px;top:1162px;background:#ff91b8">65.12MB</div>
<div class="l" style="left:1311px;width:202px;top:1218px;background:#e3e1e6"></div>
<div class="c" style="left:1515px;width:176px;top:1162px">
<div class="b" style="left:0px;width:29px;height:56px;background:#ff91b8"></div>
<div class="b" style="left:29px;width:29px;height:49px;background:#ff9abb"></div>
<div class="b" style="left:58px;width:29px;height:36px;background:#ffabbf"></div>
<div class="b" style="left:87px;width:29px;height:38px;background:#ffa9be"></div>
<div class="b" style="left:116px;width:29px;height:29px;background:#ffb4c1"></div>
<div class="b" style="left:145px;width:31px;height:25px;background:#ffb9c2"></div>
</div>
<div class="l" style="left:1515px;width:176px;top:1218px;background:#e3e1e6"></div>
<div class="c" style="left:1693px;width:178px;top:1162px;background:#bae67e"><i>解锁</i>(<b>HK</b>)</div>
<div class="l" style="left:1693px;width:178px;top:1218px;background:#e3e1e6"></div>
<div class="c" style="left:1873px;width:184px;top:1162px;background:#bae67e"><i>解锁</i>(<b>HK</b>)</div>
<div class="l" style="left:1873px;width:184px;top:1218px;background:#e3e1e6"></div>
<div class="c" style="left:2059px;width:184px;top:1162px;background:#bae67e"><i>解锁</i>(<b>HK</b>)</div>
<div class="l" style="left:2059px;width:184px;top:1218px;background:#e3e1e6"></div>
<div class="c" style="left:2245px;width:300px;top:1162px;background:#bae67e"><i>解锁</i>(<i>港澳台地区</i>)</div>
<div class="l" style="left:2245px;width:300px;top:1218px;background:#e3e1e6"></div>
<div class="c" style="left:2547px;width:183px;top:1162px">-</div>
<div class="l" style="left:2547px;width:183px;top:1218px;background:#dedede"></div>
<div class="c" style="left:2px;width:108px;top:1220px">20</div>
<div class="l" style="left:2px;width:108px;top:1276px;background:#dedede"></div>
<div class="c n" style="left:112px;width:465px;top:1220px;padding-left:18px;width:447px"><i>香港</i>20-1X<i>倍率</i></div>
<div class="l" style="left:112px;width:465px;top:1276px;background:#dedede"></div>
<div class="c" style="left:579px;width:143px;top:1220px">Trojan</div>
<div class="l" style="left:579px;width:143px;top:1276px;background:#dedede"></div>
<div class="c" style="left:724px;width:166px;top:1220px;background:#b5f9d6">84ms</div>
<div class="l" style="left:724px;width:166px;top:1276px;background:#e3e1e6"></div>
<div class="c" style="left:892px;width:213px;top:1220px;background:#a7ecc7">380ms</div>
<div class="l" style="left:892px;width:213px;top:1276px;background:#e3e1e6"></div>
<div class="c" style="left:1107px;width:202px;top:1220px;background:#ff90b8">65.78MB</div>
<div class="l" style="left:1107px;width:202px;top:1276px;background:#e3e1e6"></div>
<div class="c" style="left:1311px;width:202px;top:1220px;background:#ff74b2">90.66MB</div>
<div class="l" style="left:1311px;width:202px;top:1276px;background:#e3e1e6"></div>
<div class="c" style="left:1515px;width:176px;top:1220px">
<div class="b" style="left:0px;width:29px;height:56px;background:#ff74b2"></div>
<div class="b" style="left:29px;width:29px;height:44px;background:#ff8ab7"></div>
<div class="b" style="left:58px;width:29px;height:37px;background:#ff97ba"></div>
<div class="b" style="left:87px;width:29px;height:32px;background:#ffa0bc"></div>
<div class="b" style="left:116px;width:29px;height:42px;background:#ff8eb8"></div>
<div class="b" style="left:145px;width:31px;height:30px;background:#ffa3bd"></div>
</div>
<div class="l" style="left:1515px;width:176px;top:1276px;background:#e3e1e6"></div>
<div class="c" style="left:1693px;width:178px;top:1220px;background:#bae67e"><i>解锁</i>(<b>HK</b>)</div>
<div class="l" style="left:1693px;width:178px;top:1276px;background:#e3e1e6"></div>
<div class="c" style="left:1873px;width:184px;top:1220px;background:#bae67e"><i>解锁</i>(<b>HK</b>)</div>
<div class="l" style="left:1873px;width:184px;top:1276px;background:#e3e1e6"></div>
<div class="c" style="left:2059px;width:184px;top:1220px;background:#bae67e"><i>解锁</i>(<b>HK</b>)</div>
<div class="l" style="left:2059px;width:184px;top:1276px;background:#e3e1e6"></div>
<div class="c" style="left:2245px;width:300px;top:1220px;background:#bae67e"><i>解锁</i>(<i>港澳台地区</i>)</div>
<div class="l" style="left:2245px;width:300px;top:1276px;background:#e3e1e6"></div>
<div class="c" style="left:2547px;width:183px;top:1220px">-</div>
<div class="l" style="left:2547px;width:183px;top:1276px;background:#dedede"></div>
<div class="c" style="left:2px;width:108px;top:1278px">21</div>
<div class="l" style="left:2px;width:108px;top:1334px;background:#dedede"></div>
<div class="c n" style="left:112px;width:465px;top:1278px;padding-left:18px;width:447px"><i>台湾</i>01-1X<i>倍率</i>-<b>IEPL</b><i>专线</i></div>
<div class="l" style="left:112px;width:465px;top:1334px;background:#dedede"></div>
<div class="c" style="left:579px;width:143px;top:1278px">Trojan</div>
<div class="l" style="left:579px;width:143px;top:1334px;background:#dedede"></div>
<div class="c" style="left:724px;width:166px;top:1278px;background:#b1f5d2">157ms</div>
<div class="l" style="left:724px;width:166px;top:1334px;background:#e3e1e6"></div>
<div class="c" style="left:892px;width:213px;top:1278px;background:#99dfb7">675ms</div>
<div class="l" style="left:892px;width:213px;top:1334px;background:#e3e1e6"></div>
<div class="c" style="left:1107px;width:202px;top:1278px;background:#ff85b6">75.53MB</div>
<div class="l" style="left:1107px;width:202px;top:1334px;background:#e3e1e6"></div>
<div class="c" style="left:1311px;width:202px;top:1278px;background:#ff5cac">112.50MB</div>
<div class="l" style="left:1311px;width:202px;top:1334px;background:#e3e1e6"></div>
<div class="c" style="left:1515px;width:176px;top:1278px">
<div class="b" style="left:0px;width:29px;height:21px;background:#ffabbf"></div>
<div class="b" style="left:29px;width:29px;height:37px;background:#ff87b6"></div>
<div class="b" style="left:58px;width:29px;height:43px;background:#ff79b3"></div>
<div class="b" style="left:87px;width:29px;height:56px;background:#ff5cac"></div>
<div class="b" style="left:116px;width:29px;height:37px;background:#ff87b6"></div>
<div class="b" style="left:145px;width:31px;height:30px;background:#ff96ba"></div>
</div>
<div class="l" style="left:1515px;width:176px;top:1334px;background:#e3e1e6"></div>
<div class="c" style="left:1693px;width:178px;top:1278px;background:#ee6b73"><i>失败</i></div>
<div class="l" style="left:1693px;width:178px;top:1334px;background:#e3e1e6"></div>
<div class="c" style="left:1873px;width:184px;top:1278px;background:#bae67e"><i>解锁</i>(<b>TW</b>)</div>
<div class="l" style="left:1873px;width:184px;top:1334px;background:#e3e1e6"></div>
<div class="c" style="left:2059px;width:184px;top:1278px;background:#bae67e"><i>解锁</i>(<b>US</b>)</div>
<div class="l" style="left:2059px;width:184px;top:1334px;background:#e3e1e6"></div>
<div class="c" style="left:2245px;width:300px;top:1278px;background:#bae67e"><i>解锁</i>(<i>台湾地区</i>)</div>
<div class="l" style="left:2245px;width:300px;top:1334px;background:#e3e1e6"></div>
<div class="c" style="left:2547px;width:183px;top:1278px;background:#bae67e"><i>解锁</i>(<b>US</b>)</div>
<div class="l" style="left:2547px;width:183px;top:1334px;background:#e3e1e6"></div>
<div class="c" style="left:2px;width:108px;top:1336px">22</div>
<div class="l" style="left:2px;width:108px;top:1392px;background:#dedede"></div>
<div class="c n" style="left:112px;width:465px;top:1336px;padding-left:18px;width:447px"><i>台湾</i>02-1X<i>倍率</i>-<b>IEPL</b><i>专线</i></div>
<div class="l" style="left:112px;width:465px;top:1392px;background:#dedede"></div>
<div class="c" style="left:579px;width:143px;top:1336px">Trojan</div>
<div class="l" style="left:579px;width:143px;top:1392px;background:#dedede"></div>
<div class="c" style="left:724px;width:166px;top:1336px;background:#b0f4d0">189ms</div>
<div class="l" style="left:724px;width:166px;top:1392px;background:#e3e1e6"></div>
<div class="c" style="left:892px;width:213px;top:1336px;background:#98deb6">694ms</div>
<div class="l" style="left:892px;width:213px;top:1392px;background:#e3e1e6"></div>
<div class="c" style="left:1107px;width:202px;top:1336px;background:#ff9bbb">56.47MB</div>
<div class="l" style="left:1107px;width:202px;top:1392px;background:#e3e1e6"></div>
<div class="c" style="left:1311px;width:202px;top:1336px;background:#ff7eb4">81.81MB</div>
<div class="l" style="left:1311px;width:202px;top:1392px;background:#e3e1e6"></div>
<div class="c" style="left:1515px;width:176px;top:1336px">
<div class="b" style="left:0px;width:29px;height:16px;background:#ffc0c4"></div>
<div class="b" style="left:29px;width:29px;height:25px;background:#ffb1c0"></div>
<div class="b" style="left:58px;width:29px;height:27px;background:#ffaebf"></div>
<div class="b" style="left:87px;width:29px;height:55px;background:#ff80b4"></div>
<div class="b" style="left:116px;width:29px;height:56px;background:#ff7eb4"></div>
<div class="b" style="left:145px;width:31px;height:50px;background:#ff88b6"></div>
</div>
<div class="l" style="left:1515px;width:176px;top:1392px;background:#e3e1e6"></div>
<div class="c" style="left:1693px;width:178px;top:1336px;background:#ee6b73"><i>失败</i></div>
<div class="l" style="left:1693px;width:178px;top:1392px;background:#e3e1e6"></div>
<div class="c" style="left:1873px;width:184px;top:1336px;background:#bae67e"><i>解锁</i>(<b>TW</b>)</div>
<div class="l" style="left:1873px;width:184px;top:1392px;background:#e3e1e6"></div>
<div class="c" style="left:2059px;width:184px;top:1336px;background:#bae67e"><i>解锁</i>(<b>US</b>)</div>
<div class="l" style="left:2059px;width:184px;top:1392px;background:#e3e1e6"></div>
<div class="c" style="left:2245px;width:300px;top:1336px;background:#bae67e"><i>解锁</i>(<i>台湾地区</i>)</div>
<div class="l" style="left:2245px;width:300px;top:1392px;background:#e3e1e6"></div>
<div class="c" style="left:2547px;width:183px;top:1336px;background:#bae67e"><i>解锁</i>(<b>US</b>)</div>
<div class="l" style="left:2547px;width:183px;top:1392px;background:#e3e1e6"></div>
<div class="c" style="left:2px;width:108px;top:1394px">23</div>
<div class="l" style="left:2px;width:108px;top:1450px;background:#dedede"></div>
<div class="c n" style="left:112px;width:465px;top:1394px;padding-left:18px;width:447px"><i>台湾</i>03-1X<i>倍率</i>-<b>IEPL</b><i>专线</i></div>
<div class="l" style="left:112px;width:465px;top:1450px;background:#dedede"></div>
<div class="c" style="left:579px;width:143px;top:1394px">Trojan</div>
<div class="l" style="left:579px;width:143px;top:1450px;background:#dedede"></div>
<div class="c" style="left:724px;width:166px;top:1394px;background:#aff3d0">204ms</div>
<div class="l" style="left:724px;width:166px;top:1450px;background:#e3e1e6"></div>
<div class="c" style="left:892px;width:213px;top:1394px;background:#94dab2">762ms</div>
<div class="l" style="left:892px;width:213px;top:1450px;background:#e3e1e6"></div>
<div class="c" style="left:1107px;width:202px;top:1394px;background:#ff96ba">60.66MB</div>
<div class="l" style="left:1107px;width:202px;top:1450px;background:#e3e1e6"></div>
<div class="c" style="left:1311px;width:202px;top:1394px;background:#ff60ad">108.81MB</div>
<div class="l" style="left:1311px;width:202px;top:1450px;background:#e3e1e6"></div>
<div class="c" style="left:1515px;width:176px;top:1394px">
<div class="b" style="left:0px;width:29px;height:21px;background:#ffacbf"></div>
<div class="b" style="left:29px;width:29px;height:21px;background:#ffacbf"></div>
<div class="b" style="left:58px;width:29px;height:33px;background:#ff92b9"></div>
<div class="b" style="left:87px;width:29px;height:50px;background:#ff6db0"></div>
<div class="b" style="left:116px;width:29px;height:56px;background:#ff60ad"></div>
<div class="b" style="left:145px;width:31px;height:3px;background:#ffd4c9"></div>
</div>
<div class="l" style="left:1515px;width:176px;top:1450px;background:#e3e1e6"></div>
<div class="c" style="left:1693px;width:178px;top:1394px;background:#ee6b73"><i>失败</i></div>
<div class="l" style="left:1693px;width:178px;top:1450px;background:#e3e1e6"></div>
<div class="c" style="left:1873px;width:184px;top:1394px;background:#bae67e"><i>解锁</i>(<b>TW</b>)</div>
<div class="l" style="left:1873px;width:184px;top:1450px;background:#e3e1e6"></div>
<div class="c" style="left:2059px;width:184px;top:1394px;background:#bae67e"><i>解锁</i>(<b>US</b>)</div>
<div class="l" style="left:2059px;width:184px;top:1450px;background:#e3e1e6"></div>
<div class="c" style="left:2245px;width:300px;top:1394px;background:#bae67e"><i>解锁</i>(<i>台湾地区</i>)</div>
<div class="l" style="left:2245px;width:300px;top:1450px;background:#e3e1e6"></div>
<div class="c" style="left:2547px;width:183px;top:1394px;background:#bae67e"><i>解锁</i>(<b>US</b>)</div>
<div class="l" style="left:2547px;width:183px;top:1450px;background:#e3e1e6"></div>
<div class="c" style="left:2px;width:108px;top:1452px">24</div>
<div class="l" style="left:2px;width:108px;top:1508px;background:#dedede"></div>
<div class="c n" style="left:112px;width:465px;top:1452px;padding-left:18px;width:447px"><i>台湾</i>04-1X<i>倍率</i>-<b>IEPL</b><i>专线</i></div>
<div class="l" style="left:112px;width:465px;top:1508px;background:#dedede"></div>
<div class="c" style="left:579px;width:143px;top:1452px">Trojan</div>
<div class="l" style="left:579px;width:143px;top:1508px;background:#dedede"></div>
<div class="c" style="left:724px;width:166px;top:1452px;background:#aff3cf">210ms</div>
<div class="l" style="left:724px;width:166px;top:1508px;background:#e3e1e6"></div>
<div class="c" style="left:892px;width:213px;top:1452px;background:#91d7af">824ms</div>
<div class="l" style="left:892px;width:213px;top:1508px;background:#e3e1e6"></div>
<div class="c" style="left:1107px;width:202px;top:1452px;background:#ffc0c4">23.14MB</div>
<div class="l" style="left:1107px;width:202px;top:1508px;background:#e3e1e6"></div>
<div class="c" style="left:1311px;width:202px;top:1452px;background:#ff86b6">75.34MB</div>
<div class="l" style="left:1311px;width:202px;top:1508px;background:#e3e1e6"></div>
<div class="c" style="left:1515px;width:176px;top:1452px">
<div class="b" style="left:0px;width:29px;height:5px;background:#ffd2c8"></div>
<div class="b" style="left:29px;width:29px;height:5px;background:#ffd2c8"></div>
<div class="b" style="left:58px;width:29px;height:5px;background:#ffd2c8"></div>
<div class="b" style="left:87px;width:29px;height:23px;background:#ffb7c2"></div>
<div class="b" style="left:116px;width:29px;height:56px;background:#ff86b6"></div>
<div class="b" style="left:145px;width:31px;height:7px;background:#ffcfc7"></div>
</div>
<div class="l" style="left:1515px;width:176px;top:1508px;background:#e3e1e6"></div>
<div class="c" style="left:1693px;width:178px;top:1452px;background:#ee6b73"><i>失败</i></div>
<div class="l" style="left:1693px;width:178px;top:1508px;background:#e3e1e6"></div>
<div class="c" style="left:1873px;width:184px;top:1452px;background:#bae67e"><i>解锁</i>(<b>TW</b>)</div>
<div class="l" style="left:1873px;width:184px;top:1508px;background:#e3e1e6"></div>
<div class="c" style="left:2059px;width:184px;top:1452px;background:#bae67e"><i>解锁</i>(<b>US</b>)</div>
<div class="l" style="left:2059px;width:184px;top:1508px;background:#e3e1e6"></div>
<div class="c" style="left:2245px;width:300px;top:1452px;background:#bae67e"><i>解锁</i>(<i>台湾地区</i>)</div>
<div class="l" style="left:2245px;width:300px;top:1508px;background:#e3e1e6"></div>
<div class="c" style="left:2547px;width:183px;top:1452px;background:#bae67e"><i>解锁</i>(<b>US</b>)</div>
<div class="l" style="left:2547px;width:183px;top:1508px;background:#e3e1e6"></div>
<div class="c" style="left:2px;width:108px;top:1510px">25</div>
<div class="l" style="left:2px;width:108px;top:1566px;background:#dedede"></div>
<div class="c n" style="left:112px;width:465px;top:1510px;padding-left:18px;width:447px"><i>台湾</i>05-1X<i>倍率</i>-<b>IEPL</b><i>专线</i></div>
<div class="l" style="left:112px;width:465px;top:1566px;background:#dedede"></div>
<div class="c" style="left:579px;width:143px;top:1510px">Trojan</div>
<div class="l" style="left:579px;width:143px;top:1566px;background:#dedede"></div>
<div class="c" style="left:724px;width:166px;top:1510px;background:#aff3d0">203ms</div>
<div class="l" style="left:724px;width:166px;top:1566px;background:#e3e1e6"></div>
<div class="c" style="left:892px;width:213px;top:1510px;background:#90d7ae">828ms</div>
<div class="l" style="left:892px;width:213px;top:1566px;background:#e3e1e6"></div>
<div class="c" style="left:1107px;width:202px;top:1510px;background:#ffc2c4">21.15MB</div>
<div class="l" style="left:1107px;width:202px;top:1566px;background:#e3e1e6"></div>
<div class="c" style="left:1311px;width:202px;top:1510px;background:#ffafc0">38.59MB</div>
<div class="l" style="left:1311px;width:202px;top:1566px;background:#e3e1e6"></div>
<div class="c" style="left:1515px;width:176px;top:1510px">
<div class="b" style="left:0px;width:29px;height:10px;background:#ffd0c8"></div>
<div class="b" style="left:29px;width:29px;height:9px;background:#ffd1c8"></div>
<div class="b" style="left:58px;width:29px;height:24px;background:#ffc2c4"></div>
<div class="b" style="left:87px;width:29px;height:36px;background:#ffb6c1"></div>
<div class="b" style="left:116px;width:29px;height:43px;background:#ffafc0"></div>
<div class="b" style="left:145px;width:31px;height:18px;background:#ffc8c6"></div>
</div>
<div class="l" style="left:1515px;width:176px;top:1566px;background:#e3e1e6"></div>
<div class="c" style="left:1693px;width:178px;top:1510px;background:#ee6b73"><i>失败</i></div>
<div class="l" style="left:1693px;width:178px;top:1566px;background:#e3e1e6"></div>
<div class="c" style="left:1873px;width:184px;top:1510px;background:#bae67e"><i>解锁</i>(<b>TW</b>)</div>
<div class="l" style="left:1873px;width:184px;top:1566px;background:#e3e1e6"></div>
<div class="c" style="left:2059px;width:184px;top:1510px;background:#bae67e"><i>解锁</i>(<b>US</b>)</div>
<div class="l" style="left:2059px;width:184px;top:1566px;background:#e3e1e6"></div>
<div class="c" style="left:2245px;width:300px;top:1510px;background:#bae67e"><i>解锁</i>(<i>台湾地区</i>)</div>
<div class="l" style="left:2245px;width:300px;top:1566px;background:#e3e1e6"></div>
<div class="c" style="left:2547px;width:183px;top:1510px;background:#bae67e"><i>解锁</i>(<b>US</b>)</div>
<div class="l" style="left:2547px;width:183px;top:1566px;background:#e3e1e6"></div>
<div class="c" style="left:2px;width:108px;top:1568px">26</div>
<div class="l" style="left:2px;width:108px;top:1624px;background:#dedede"></div>
<div class="c n" style="left:112px;width:465px;top:1568px;padding-left:18px;width:447px"><i>新加坡</i>01-1X<i>倍率</i>-<b>IEPL</b><i>专线</i></div>
<div class="l" style="left:112px;width:465px;top:1624px;background:#dedede"></div>
<div class="c" style="left:579px;width:143px;top:1568px">Trojan</div>
<div class="l" style="left:579px;width:143px;top:1624px;background:#dedede"></div>
<div class="c" style="left:724px;width:166px;top:1568px;background:#b2f7d3">133ms</div>
<div class="l" style="left:724px;width:166px;top:1624px;background:#e3e1e6"></div>
<div class="c" style="left:892px;width:213px;top:1568px;background:#97ddb5">708ms</div>
<div class="l" style="left:892px;width:213px;top:1624px;background:#e3e1e6"></div>
<div class="c" style="left:1107px;width:202px;top:1568px;background:#ffc8c6">16.21MB</div>
<div class="l" style="left:1107px;width:202px;top:1624px;background:#e3e1e6"></div>
<div class="c" style="left:1311px;width:202px;top:1568px;background:#ffc4c5">19.94MB</div>
<div class="l" style="left:1311px;width:202px;top:1624px;background:#e3e1e6"></div>
<div class="c" style="left:1515px;width:176px;top:1568px">
<div class="b" style="left:0px;width:29px;height:22px;background:#ffc4c5"></div>
<div class="b" style="left:29px;width:29px;height:9px;background:#ffd1c8"></div>
<div class="b" style="left:58px;width:29px;height:18px;background:#ffc8c6"></div>
<div class="b" style="left:87px;width:29px;height:14px;background:#ffccc7"></div>
<div class="b" style="left:116px;width:29px;height:21px;background:#ffc5c5"></div>
<div class="b" style="left:145px;width:31px;height:22px;background:#ffc4c5"></div>
</div>
<div class="l" style="left:1515px;width:176px;top:1624px;background:#e3e1e6"></div>
<div class="c" style="left:1693px;width:178px;top:1568px;background:#bae67e"><i>解锁</i>(<b>SG</b>)</div>
<div class="l" style="left:1693px;width:178px;top:1624px;background:#e3e1e6"></div>
<div class="c" style="left:1873px;width:184px;top:1568px;background:#bae67e"><i>解锁</i>(<b>SG</b>)</div>
<div class="l" style="left:1873px;width:184px;top:1624px;background:#e3e1e6"></div>
<div class="c" style="left:2059px;width:184px;top:1568px;background:#bae67e"><i>解锁</i>(<b>SG</b>)</div>
<div class="l" style="left:2059px;width:184px;top:1624px;background:#e3e1e6"></div>
<div class="c" style="left:2245px;width:300px;top:1568px;background:#ee6b73"><i>失败</i></div>
<div class="l" style="left:2245px;width:300px;top:1624px;background:#e3e1e6"></div>
<div class="c" style="left:2547px;width:183px;top:1568px;background:#bae67e"><i>解锁</i>(<b>SG</b>)</div>
<div class="l" style="left:2547px;width:183px;top:1624px;background:#e3e1e6"></div>
<div class="c" style="left:2px;width:108px;top:1626px">27</div>
<div class="l" style="left:2px;width:108px;top:1682px;background:#dedede"></div>
<div class="c n" style="left:112px;width:465px;top:1626px;padding-left:18px;width:447px"><i>新加坡</i>02-1X<i>倍率</i>-<b>IEPL</b><i>专线</i></div>
<div class="l" style="left:112px;width:465px;top:1682px;background:#dedede"></div>
<div class="c" style="left:579px;width:143px;top:1626px">Trojan</div>
<div class="l" style="left:579px;width:143px;top:1682px;background:#dedede"></div>
<div class="c" style="left:724px;width:166px;top:1626px;background:#b1f5d2">158ms</div>
<div class="l" style="left:724px;width:166px;top:1682px;background:#e3e1e6"></div>
<div class="c" style="left:892px;width:213px;top:1626px;background:#9ae0b8">649ms</div>
<div class="l" style="left:892px;width:213px;top:1682px;background:#e3e1e6"></div>
<div class="c" style="left:1107px;width:202px;top:1626px;background:#ffc7c5">16.71MB</div>
<div class="l" style="left:1107px;width:202px;top:1682px;background:#e3e1e6"></div>
<div class="c" style="left:1311px;width:202px;top:1626px;background:#ff9bbb">56.06MB</div>
<div class="l" style="left:1311px;width:202px;top:1682px;background:#e3e1e6"></div>
<div class="c" style="left:1515px;width:176px;top:1626px">
<div class="b" style="left:0px;width:29px;height:56px;background:#ff9bbb"></div>
<div class="b" style="left:29px;width:29px;height:31px;background:#ffb7c2"></div>
<div class="b" style="left:58px;width:29px;height:12px;background:#ffcdc7"></div>
</div>
<div class="l" style="left:1515px;width:176px;top:1682px;background:#e3e1e6"></div>
<div class="c" style="left:1693px;width:178px;top:1626px;background:#bae67e"><i>解锁</i>(<b>SG</b>)</div>
<div class="l" style="left:1693px;width:178px;top:1682px;background:#e3e1e6"></div>
<div class="c" style="left:1873px;width:184px;top:1626px;background:#bae67e"><i>解锁</i>(<b>SG</b>)</div>
<div class="l" style="left:1873px;width:184px;top:1682px;background:#e3e1e6"></div>
<div class="c" style="left:2059px;width:184px;top:1626px;background:#bae67e"><i>解锁</i>(<b>SG</b>)</div>
<div class="l" style="left:2059px;width:184px;top:1682px;background:#e3e1e6"></div>
<div class="c" style="left:2245px;width:300px;top:1626px;background:#ee6b73"><i>失败</i></div>
<div class="l" style="left:2245px;width:300px;top:1682px;background:#e3e1e6"></div>
<div class="c" style="left:2547px;width:183px;top:1626px;background:#bae67e"><i>解锁</i>(<b>SG</b>)</div>
<div class="l" style="left:2547px;width:183px;top:1682px;background:#e3e1e6"></div>
<div class="c" style="left:2px;width:108px;top:1684px">28</div>
<div class="l" style="left:2px;width:108px;top:1740px;background:#dedede"></div>
<div class="c n" style="left:112px;width:465px;top:1684px;padding-left:18px;width:447px"><i>新加坡</i>03-1X<i>倍率</i>-<b>IEPL</b><i>专线</i></div>
<div class="l" style="left:112px;width:465px;top:1740px;background:#dedede"></div>
<div class="c" style="left:579px;width:143px;top:1684px">Trojan</div>
<div class="l" style="left:579px;width:143px;top:1740px;background:#dedede"></div>
<div class="c" style="left:724px;width:166px;top:1684px;background:#b3f7d4">112ms</div>
<div class="l" style="left:724px;width:166px;top:1740px;background:#e3e1e6"></div>
<div class="c" style="left:892px;width:213px;top:1684px;background:#69b387">1552ms</div>
<div class="l" style="left:892px;width:213px;top:1740px;background:#e3e1e6"></div>
<div class="c" style="left:1107px;width:202px;top:1684px;background:#ffb7c1">31.55MB</div>
<div class="l" style="left:1107px;width:202px;top:1740px;background:#e3e1e6"></div>
<div class="c" style="left:1311px;width:202px;top:1684px;background:#ff99ba">58.47MB</div>
<div class="l" style="left:1311px;width:202px;top:1740px;background:#e3e1e6"></div>
<div class="c" style="left:1515px;width:176px;top:1684px">
<div class="b" style="left:0px;width:29px;height:37px;background:#ffafc0"></div>
<div class="b" style="left:29px;width:29px;height:56px;background:#ff99ba"></div>
<div class="b" style="left:58px;width:29px;height:29px;background:#ffb8c2"></div>
<div class="b" style="left:87px;width:29px;height:17px;background:#ffc6c5"></div>
<div class="b" style="left:116px;width:29px;height:29px;background:#ffb8c2"></div>
<div class="b" style="left:145px;width:31px;height:11px;background:#ffcdc7"></div>
</div>
<div class="l" style="left:1515px;width:176px;top:1740px;background:#e3e1e6"></div>
<div class="c" style="left:1693px;width:178px;top:1684px;background:#bae67e"><i>解锁</i>(<b>SG</b>)</div>
<div class="l" style="left:1693px;width:178px;top:1740px;background:#e3e1e6"></div>
<div class="c" style="left:1873px;width:184px;top:1684px;background:#bae67e"><i>解锁</i>(<b>SG</b>)</div>
<div class="l" style="left:1873px;width:184px;top:1740px;background:#e3e1e6"></div>
<div class="c" style="left:2059px;width:184px;top:1684px;background:#bae67e"><i>解锁</i>(<b>SG</b>)</div>
<div class="l" style="left:2059px;width:184px;top:1740px;background:#e3e1e6"></div>
<div class="c" style="left:2245px;width:300px;top:1684px;background:#ee6b73"><i>失败</i></div>
<div class="l" style="left:2245px;width:300px;top:1740px;background:#e3e1e6"></div>
<div class="c" style="left:2547px;width:183px;top:1684px;background:#bae67e"><i>解锁</i>(<b>SG</b>)</div>
<div class="l" style="left:2547px;width:183px;top:1740px;background:#e3e1e6"></div>
<div class="c" style="left:2px;width:108px;top:1742px">29</div>
<div class="l" style="left:2px;width:108px;top:1798px;background:#dedede"></div>
<div class="c n" style="left:112px;width:465px;top:1742px;padding-left:18px;width:447px"><i>新加坡</i>04-1X<i>倍率</i>-<b>IEPL</b><i>专线</i></div>
<div class="l" style="left:112px;width:465px;top:1798px;background:#dedede"></div>
<div class="c" style="left:579px;width:143px;top:1742px">Trojan</div>
<div class="l" style="left:579px;width:143px;top:1798px;background:#dedede"></div>
<div class="c" style="left:724px;width:166px;top:1742px;background:#b2f7d3">131ms</div>
<div class="l" style="left:724px;width:166px;top:1798px;background:#e3e1e6"></div>
<div class="c" style="left:892px;width:213px;top:1742px;background:#98deb6">683ms</div>
<div class="l" style="left:892px;width:213px;top:1798px;background:#e3e1e6"></div>
<div class="c" style="left:1107px;width:202px;top:1742px;background:#ffb8c2">30.51MB</div>
<div class="l" style="left:1107px;width:202px;top:1798px;background:#e3e1e6"></div>
<div class="c" style="left:1311px;width:202px;top:1742px;background:#ffa1bc">51.28MB</div>
<div class="l" style="left:1311px;width:202px;top:1798px;background:#e3e1e6"></div>
<div class="c" style="left:1515px;width:176px;top:1742px">
<div class="b" style="left:0px;width:29px;height:22px;background:#ffc3c5"></div>
<div class="b" style="left:29px;width:29px;height:56px;background:#ffa1bc"></div>
<div class="b" style="left:58px;width:29px;height:30px;background:#ffbbc3"></div>
<div class="b" style="left:87px;width:29px;height:25px;background:#ffc0c4"></div>
<div class="b" style="left:116px;width:29px;height:39px;background:#ffb2c0"></div>
<div class="b" style="left:145px;width:31px;height:25px;background:#ffc0c4"></div>
</div>
<div class="l" style="left:1515px;width:176px;top:1798px;background:#e3e1e6"></div>
<div class="c" style="left:1693px;width:178px;top:1742px;background:#bae67e"><i>解锁</i>(<b>SG</b>)</div>
<div class="l" style="left:1693px;width:178px;top:1798px;background:#e3e1e6"></div>
<div class="c" style="left:1873px;width:184px;top:1742px;background:#bae67e"><i>解锁</i>(<b>SG</b>)</div>
<div class="l" style="left:1873px;width:184px;top:1798px;background:#e3e1e6"></div>
<div class="c" style="left:2059px;width:184px;top:1742px;background:#bae67e"><i>解锁</i>(<b>SG</b>)</div>
<div class="l" style="left:2059px;width:184px;top:1798px;background:#e3e1e6"></div>
<div class="c" style="left:2245px;width:300px;top:1742px;background:#ee6b73"><i>失败</i></div>
<div class="l" style="left:2245px;width:300px;top:1798px;background:#e3e1e6"></div>
<div class="c" style="left:2547px;width:183px;top:1742px;background:#bae67e"><i>解锁</i>(<b>SG</b>)</div>
<div class="l" style="left:2547px;width:183px;top:1798px;background:#e3e1e6"></div>
<div class="c" style="left:2px;width:108px;top:1800px">30</div>
<div class="l" style="left:2px;width:108px;top:1856px;background:#dedede"></div>
<div class="c n" style="left:112px;width:465px;top:1800px;padding-left:18px;width:447px"><i>新加坡</i>05-1X<i>倍率</i>-<b>IEPL</b><i>专线</i></div>
<div class="l" style="left:112px;width:465px;top:1856px;background:#dedede"></div>
<div class="c" style="left:579px;width:143px;top:1800px">Trojan</div>
<div class="l" style="left:579px;width:143px;top:1856px;background:#dedede"></div>
<div class="c" style="left:724px;width:166px;top:1800px;background:#b3f7d3">129ms</div>
<div class="l" style="left:724px;width:166px;top:1856px;background:#e3e1e6"></div>
<div class="c" style="left:892px;width:213px;top:1800px;background:#69b387">1541ms</div>
<div class="l" style="left:892px;width:213px;top:1856px;background:#e3e1e6"></div>
<div class="c" style="left:1107px;width:202px;top:1800px;background:#ffbcc3">26.38MB</div>
<div class="l" style="left:1107px;width:202px;top:1856px;background:#e3e1e6"></div>
<div class="c" style="left:1311px;width:202px;top:1800px;background:#ffb0c0">37.34MB</div>
<div class="l" style="left:1311px;width:202px;top:1856px;background:#e3e1e6"></div>
<div class="c" style="left:1515px;width:176px;top:1800px">
<div class="b" style="left:0px;width:29px;height:41px;background:#ffb1c0"></div>
<div class="b" style="left:29px;width:29px;height:41px;background:#ffb1c0"></div>
<div class="b" style="left:58px;width:29px;height:25px;background:#ffc1c4"></div>
<div class="b" style="left:87px;width:29px;height:27px;background:#ffbfc3"></div>
<div class="b" style="left:116px;width:29px;height:30px;background:#ffbcc3"></div>
<div class="b" style="left:145px;width:31px;height:11px;background:#ffcfc7"></div>
</div>
<div class="l" style="left:1515px;width:176px;top:1856px;background:#e3e1e6"></div>
<div class="c" style="left:1693px;width:178px;top:1800px;background:#bae67e"><i>解锁</i>(<b>SG</b>)</div>
<div class="l" style="left:1693px;width:178px;top:1856px;background:#e3e1e6"></div>
<div class="c" style="left:1873px;width:184px;top:1800px;background:#bae67e"><i>解锁</i>(<b>SG</b>)</div>
<div class="l" style="left:1873px;width:184px;top:1856px;background:#e3e1e6"></div>
<div class="c" style="left:2059px;width:184px;top:1800px;background:#bae67e"><i>解锁</i>(<b>SG</b>)</div>
<div class="l" style="left:2059px;width:184px;top:1856px;background:#e3e1e6"></div>
<div class="c" style="left:2245px;width:300px;top:1800px;background:#ee6b73"><i>失败</i></div>
<div class="l" style="left:2245px;width:300px;top:1856px;background:#e3e1e6"></div>
<div class="c" style="left:2547px;width:183px;top:1800px;background:#bae67e"><i>解锁</i>(<b>SG</b>)</div>
<div class="l" style="left:2547px;width:183px;top:1856px;background:#e3e1e6"></div>
<div class="c" style="left:2px;width:108px;top:1858px">31</div>
<div class="l" style="left:2px;width:108px;top:1914px;background:#dedede"></div>
<div class="c n" style="left:112px;width:465px;top:1858px;padding-left:18px;width:447px"><i>新加坡</i>06-1X<i>倍率</i></div>
<div class="l" style="left:112px;width:465px;top:1914px;background:#dedede"></div>
<div class="c" style="left:579px;width:143px;top:1858px">Trojan</div>
<div class="l" style="left:579px;width:143px;top:1914px;background:#dedede"></div>
<div class="c" style="left:724px;width:166px;top:1858px;background:#b3f7d4">120ms</div>
<div class="l" style="left:724px;width:166px;top:1914px;background:#e3e1e6"></div>
<div class="c" style="left:892px;width:213px;top:1858px;background:#9ae0b8">658ms</div>
<div class="l" style="left:892px;width:213px;top:1914px;background:#e3e1e6"></div>
<div class="c" style="left:1107px;width:202px;top:1858px;background:#ffbbc3">27.27MB</div>
<div class="l" style="left:1107px;width:202px;top:1914px;background:#e3e1e6"></div>
<div class="c" style="left:1311px;width:202px;top:1858px;background:#ffacbf">40.78MB</div>
<div class="l" style="left:1311px;width:202px;top:1914px;background:#e3e1e6"></div>
<div class="c" style="left:1515px;width:176px;top:1858px">
<div class="b" style="left:0px;width:29px;height:17px;background:#ffc9c6"></div>
<div class="b" style="left:29px;width:29px;height:45px;background:#ffadbf"></div>
<div class="b" style="left:58px;width:29px;height:29px;background:#ffbdc3"></div>
<div class="b" style="left:87px;width:29px;height:26px;background:#ffc0c4"></div>
<div class="b" style="left:116px;width:29px;height:37px;background:#ffb5c1"></div>
<div class="b" style="left:145px;width:31px;height:26px;background:#ffc0c4"></div>
</div>
<div class="l" style="left:1515px;width:176px;top:1914px;background:#e3e1e6"></div>
<div class="c" style="left:1693px;width:178px;top:1858px;background:#bae67e"><i>解锁</i>(<b>SG</b>)</div>
<div class="l" style="left:1693px;width:178px;top:1914px;background:#e3e1e6"></div>
<div class="c" style="left:1873px;width:184px;top:1858px;background:#bae67e"><i>解锁</i>(<b>SG</b>)</div>
<div class="l" style="left:1873px;width:184px;top:1914px;background:#e3e1e6"></div>
<div class="c" style="left:2059px;width:184px;top:1858px;background:#bae67e"><i>解锁</i>(<b>SG</b>)</div>
<div class="l" style="left:2059px;width:184px;top:1914px;background:#e3e1e6"></div>
<div class="c" style="left:2245px;width:300px;top:1858px;background:#ee6b73"><i>失败</i></div>
<div class="l" style="left:2245px;width:300px;top:1914px;background:#e3e1e6"></div>
<div class="c" style="left:2547px;width:183px;top:1858px;background:#bae67e"><i>解锁</i>(<b>SG</b>)</div>
<div class="l" style="left:2547px;width:183px;top:1914px;background:#e3e1e6"></div>
<div class="c" style="left:2px;width:108px;top:1916px">32</div>
<div class="l" style="left:2px;width:108px;top:1972px;background:#dedede"></div>
<div class="c n" style="left:112px;width:465px;top:1916px;padding-left:18px;width:447px"><i>新加坡</i>07-1X<i>倍率</i></div>
<div class="l" style="left:112px;width:465px;top:1972px;background:#dedede"></div>
<div class="c" style="left:579px;width:143px;top:1916px">Trojan</div>
<div class="l" style="left:579px;width:143px;top:1972px;background:#dedede"></div>
<div class="c" style="left:724px;width:166px;top:1916px;background:#b1f6d2">154ms</div>
<div class="l" style="left:724px;width:166px;top:1972px;background:#e3e1e6"></div>
<div class="c" style="left:892px;width:213px;top:1916px;background:#9be1b9">632ms</div>
<div class="l" style="left:892px;width:213px;top:1972px;background:#e3e1e6"></div>
<div class="c" style="left:1107px;width:202px;top:1916px;background:#ffbcc3">26.81MB</div>
<div class="l" style="left:1107px;width:202px;top:1972px;background:#e3e1e6"></div>
<div class="c" style="left:1311px;width:202px;top:1916px;background:#ffa1bc">51.28MB</div>
<div class="l" style="left:1311px;width:202px;top:1972px;background:#e3e1e6"></div>
<div class="c" style="left:1515px;width:176px;top:1916px">
<div class="b" style="left:0px;width:29px;height:13px;background:#ffcdc7"></div>
<div class="b" style="left:29px;width:29px;height:44px;background:#ffadbf"></div>
<div class="b" style="left:58px;width:29px;height:56px;background:#ffa1bc"></div>
<div class="b" style="left:87px;width:29px;height:21px;background:#ffc4c5"></div>
<div class="b" style="left:116px;width:29px;height:15px;background:#ffcbc6"></div>
<div class="b" style="left:145px;width:31px;height:23px;background:#ffc2c4"></div>
</div>
<div class="l" style="left:1515px;width:176px;top:1972px;background:#e3e1e6"></div>
<div class="c" style="left:1693px;width:178px;top:1916px;background:#bae67e"><i>解锁</i>(<b>SG</b>)</div>
<div class="l" style="left:1693px;width:178px;top:1972px;background:#e3e1e6"></div>
<div class="c" style="left:1873px;width:184px;top:1916px;background:#bae67e"><i>解锁</i>(<b>SG</b>)</div>
<div class="l" style="left:1873px;width:184px;top:1972px;background:#e3e1e6"></div>
<div class="c" style="left:2059px;width:184px;top:1916px;background:#bae67e"><i>解锁</i>(<b>SG</b>)</div>
<div class="l" style="left:2059px;width:184px;top:1972px;background:#e3e1e6"></div>
<div class="c" style="left:2245px;width:300px;top:1916px;background:#ee6b73"><i>失败</i></div>
<div class="l" style="left:2245px;width:300px;top:1972px;background:#e3e1e6"></div>
<div class="c" style="left:2547px;width:183px;top:1916px;background:#bae67e"><i>解锁</i>(<b>SG</b>)</div>
<div class="l" style="left:2547px;width:183px;top:1972px;background:#e3e1e6"></div>
<div class="c" style="left:2px;width:108px;top:1974px">33</div>
<div class="l" style="left:2px;width:108px;top:2030px;background:#dedede"></div>
<div class="c n" style="left:112px;width:465px;top:1974px;padding-left:18px;width:447px"><i>新加坡</i>08-1X<i>倍率</i></div>
<div class="l" style="left:112px;width:465px;top:2030px;background:#dedede"></div>
<div class="c" style="left:579px;width:143px;top:1974px">Trojan</div>
<div class="l" style="left:579px;width:143px;top:2030px;background:#dedede"></div>
<div class="c" style="left:724px;width:166px;top:1974px;background:#b2f6d2">147ms</div>
<div class="l" style="left:724px;width:166px;top:2030px;background:#e3e1e6"></div>
<div class="c" style="left:892px;width:213px;top:1974px;background:#89d1a7">958ms</div>
<div class="l" style="left:892px;width:213px;top:2030px;background:#e3e1e6"></div>
<div class="c" style="left:1107px;width:202px;top:1974px;background:#ffbec3">24.97MB</div>
<div class="l" style="left:1107px;width:202px;top:2030px;background:#e3e1e6"></div>
<div class="c" style="left:1311px;width:202px;top:1974px;background:#ffa7be">45.75MB</div>
<div class="l" style="left:1311px;width:202px;top:2030px;background:#e3e1e6"></div>
<div class="c" style="left:1515px;width:176px;top:1974px">
<div class="b" style="left:0px;width:29px;height:38px;background:#ffb4c1"></div>
<div class="b" style="left:29px;width:29px;height:51px;background:#ffa7be"></div>
<div class="b" style="left:58px;width:29px;height:31px;background:#ffbbc3"></div>
<div class="b" style="left:87px;width:29px;height:35px;background:#ffb7c2"></div>
<div class="b" style="left:116px;width:29px;height:9px;background:#ffd1c8"></div>
</div>
<div class="l" style="left:1515px;width:176px;top:2030px;background:#e3e1e6"></div>
<div class="c" style="left:1693px;width:178px;top:1974px;background:#bae67e"><i>解锁</i>(<b>SG</b>)</div>
<div class="l" style="left:1693px;width:178px;top:2030px;background:#e3e1e6"></div>
<div class="c" style="left:1873px;width:184px;top:1974px;background:#bae67e"><i>解锁</i>(<b>SG</b>)</div>
<div class="l" style="left:1873px;width:184px;top:2030px;background:#e3e1e6"></div>
<div class="c" style="left:2059px;width:184px;top:1974px;background:#bae67e"><i>解锁</i>(<b>SG</b>)</div>
<div class="l" style="left:2059px;width:184px;top:2030px;background:#e3e1e6"></div>
<div class="c" style="left:2245px;width:300px;top:1974px;background:#ee6b73"><i>失败</i></div>
<div class="l" style="left:2245px;width:300px;top:2030px;background:#e3e1e6"></div>
<div class="c" style="left:2547px;width:183px;top:1974px;background:#bae67e"><i>解锁</i>(<b>SG</b>)</div>
<div class="l" style="left:2547px;width:183px;top:2030px;background:#e3e1e6"></div>
<div class="c" style="left:2px;width:108px;top:2032px">34</div>
<div class="l" style="left:2px;width:108px;top:2088px;background:#dedede"></div>
<div class="c n" style="left:112px;width:465px;top:2032px;padding-left:18px;width:447px"><i>新加坡</i>09-1X<i>倍率</i></div>
<div class="l" style="left:112px;width:465px;top:2088px;background:#dedede"></div>
<div class="c" style="left:579px;width:143px;top:2032px">Trojan</div>
<div class="l" style="left:579px;width:143px;top:2088px;background:#dedede"></div>
<div class="c" style="left:724px;width:166px;top:2032px;background:#b2f6d3">142ms</div>
<div class="l" style="left:724px;width:166px;top:2088px;background:#e3e1e6"></div>
<div class="c" style="left:892px;width:213px;top:2032px;background:#9ce1ba">616ms</div>
<div class="l" style="left:892px;width:213px;top:2088px;background:#e3e1e6"></div>
<div class="c" style="left:1107px;width:202px;top:2032px;background:#ffa6bd">46.72MB</div>
<div class="l" style="left:1107px;width:202px;top:2088px;background:#e3e1e6"></div>
<div class="c" style="left:1311px;width:202px;top:2032px;background:#ff8fb8">67.34MB</div>
<div class="l" style="left:1311px;width:202px;top:2088px;background:#e3e1e6"></div>
<div class="c" style="left:1515px;width:176px;top:2032px">
<div class="b" style="left:0px;width:29px;height:37px;background:#ffa8be"></div>
<div class="b" style="left:29px;width:29px;height:56px;background:#ff8fb8"></div>
<div class="b" style="left:58px;width:29px;height:54px;background:#ff91b8"></div>
<div class="b" style="left:87px;width:29px;height:43px;background:#ffa0bc"></div>
<div class="b" style="left:116px;width:29px;height:36px;background:#ffa9be"></div>
<div class="b" style="left:145px;width:31px;height:5px;background:#ffd3c8"></div>
</div>
<div class="l" style="left:1515px;width:176px;top:2088px;background:#e3e1e6"></div>
<div class="c" style="left:1693px;width:178px;top:2032px;background:#bae67e"><i>解锁</i>(<b>SG</b>)</div>
<div class="l" style="left:1693px;width:178px;top:2088px;background:#e3e1e6"></div>
<div class="c" style="left:1873px;width:184px;top:2032px;background:#bae67e"><i>解锁</i>(<b>SG</b>)</div>
<div class="l" style="left:1873px;width:184px;top:2088px;background:#e3e1e6"></div>
<div class="c" style="left:2059px;width:184px;top:2032px;background:#bae67e"><i>解锁</i>(<b>SG</b>)</div>
<div class="l" style="left:2059px;width:184px;top:2088px;background:#e3e1e6"></div>
<div class="c" style="left:2245px;width:300px;top:2032px;background:#ee6b73"><i>失败</i></div>
<div class="l" style="left:2245px;width:300px;top:2088px;background:#e3e1e6"></div>
<div class="c" style="left:2547px;width:183px;top:2032px;background:#bae67e"><i>解锁</i>(<b>SG</b>)</div>
<div class="l" style="left:2547px;width:183px;top:2088px;background:#e3e1e6"></div>
<div class="c" style="left:2px;width:108px;top:2090px">35</div>
<div class="l" style="left:2px;width:108px;top:2146px;background:#dedede"></div>
<div class="c n" style="left:112px;width:465px;top:2090px;padding-left:18px;width:447px"><i>新加坡</i>10-1X<i>倍率</i></div>
<div class="l" style="left:112px;width:465px;top:2146px;background:#dedede"></div>
<div class="c" style="left:579px;width:143px;top:2090px">Trojan</div>
<div class="l" style="left:579px;width:143px;top:2146px;background:#dedede"></div>
<div class="c" style="left:724px;width:166px;top:2090px;background:#b2f6d3">145ms</div>
<div class="l" style="left:724px;width:166px;top:2146px;background:#e3e1e6"></div>
<div class="c" style="left:892px;width:213px;top:2090px;background:#9ce2ba">609ms</div>
<div class="l" style="left:892px;width:213px;top:2146px;background:#e3e1e6"></div>
<div class="c" style="left:1107px;width:202px;top:2090px;background:#ffb8c2">30.26MB</div>
<div class="l" style="left:1107px;width:202px;top:2146px;background:#e3e1e6"></div>
<div class="c" style="left:1311px;width:202px;top:2090px;background:#ff94b9">62.53MB</div>
<div class="l" style="left:1311px;width:202px;top:2146px;background:#e3e1e6"></div>
<div class="c" style="left:1515px;width:176px;top:2090px">
<div class="b" style="left:0px;width:29px;height:56px;background:#ff94b9"></div>
<div class="b" style="left:29px;width:29px;height:31px;background:#ffb3c1"></div>
<div class="b" style="left:58px;width:29px;height:19px;background:#ffc2c4"></div>
<div class="b" style="left:87px;width:29px;height:27px;background:#ffb8c2"></div>
<div class="b" style="left:116px;width:29px;height:21px;background:#ffc0c4"></div>
<div class="b" style="left:145px;width:31px;height:6px;background:#ffd3c8"></div>
</div>
<div class="l" style="left:1515px;width:176px;top:2146px;background:#e3e1e6"></div>
<div class="c" style="left:1693px;width:178px;top:2090px;background:#bae67e"><i>解锁</i>(<b>SG</b>)</div>
<div class="l" style="left:1693px;width:178px;top:2146px;background:#e3e1e6"></div>
<div class="c" style="left:1873px;width:184px;top:2090px;background:#bae67e"><i>解锁</i>(<b>SG</b>)</div>
<div class="l" style="left:1873px;width:184px;top:2146px;background:#e3e1e6"></div>
<div class="c" style="left:2059px;width:184px;top:2090px;background:#bae67e"><i>解锁</i>(<b>SG</b>)</div>
<div class="l" style="left:2059px;width:184px;top:2146px;background:#e3e1e6"></div>
<div class="c" style="left:2245px;width:300px;top:2090px;background:#ee6b73"><i>失败</i></div>
<div class="l" style="left:2245px;width:300px;top:2146px;background:#e3e1e6"></div>
<div class="c" style="left:2547px;width:183px;top:2090px;background:#bae67e"><i>解锁</i>(<b>SG</b>)</div>
<div class="l" style="left:2547px;width:183px;top:2146px;background:#e3e1e6"></div>
<div class="c" style="left:2px;width:108px;top:2148px">36</div>
<div class="l" style="left:2px;width:108px;top:2204px;background:#dedede"></div>
<div class="c n" style="left:112px;width:465px;top:2148px;padding-left:18px;width:447px"><i>日本</i>01-1X<i>倍率</i>-<b>IEPL</b><i>专线</i></div>
<div class="l" style="left:112px;width:465px;top:2204px;background:#dedede"></div>
<div class="c" style="left:579px;width:143px;top:2148px">Trojan</div>
<div class="l" style="left:579px;width:143px;top:2204px;background:#dedede"></div>
<div class="c" style="left:724px;width:166px;top:2148px;background:#b3f7d3">129ms</div>
<div class="l" style="left:724px;width:166px;top:2204px;background:#e3e1e6"></div>
<div class="c" style="left:892px;width:213px;top:2148px;background:#64ae82">1643ms</div>
<div class="l" style="left:892px;width:213px;top:2204px;background:#e3e1e6"></div>
<div class="c" style="left:1107px;width:202px;top:2148px;background:#ffd0c8">9.20MB</div>
<div class="l" style="left:1107px;width:202px;top:2204px;background:#e3e1e6"></div>
<div class="c" style="left:1311px;width:202px;top:2148px;background:#ffc3c5">20.31MB</div>
<div class="l" style="left:1311px;width:202px;top:2204px;background:#e3e1e6"></div>
<div class="c" style="left:1515px;width:176px;top:2148px">
<div class="b" style="left:0px;width:29px;height:8px;background:#ffd2c8"></div>
<div class="b" style="left:29px;width:29px;height:17px;background:#ffc9c6"></div>
<div class="b" style="left:58px;width:29px;height:9px;background:#ffd1c8"></div>
<div class="b" style="left:87px;width:29px;height:22px;background:#ffc4c5"></div>
<div class="b" style="left:116px;width:29px;height:3px;background:#ffd7c9"></div>
</div>
<div class="l" style="left:1515px;width:176px;top:2204px;background:#e3e1e6"></div>
<div class="c" style="left:1693px;width:178px;top:2148px;background:#bae67e"><i>解锁</i>(<b>JP</b>)</div>
<div class="l" style="left:1693px;width:178px;top:2204px;background:#e3e1e6"></div>
<div class="c" style="left:1873px;width:184px;top:2148px;background:#bae67e"><i>解锁</i>(<b>JP</b>)</div>
<div class="l" style="left:1873px;width:184px;top:2204px;background:#e3e1e6"></div>
<div class="c" style="left:2059px;width:184px;top:2148px;background:#bae67e"><i>解锁</i>(<b>JP</b>)</div>
<div class="l" style="left:2059px;width:184px;top:2204px;background:#e3e1e6"></div>
<div class="c" style="left:2245px;width:300px;top:2148px;background:#ee6b73"><i>失败</i></div>
<div class="l" style="left:2245px;width:300px;top:2204px;background:#e3e1e6"></div>
<div class="c" style="left:2547px;width:183px;top:2148px;background:#bae67e"><i>解锁</i>(<b>JP</b>)</div>
<div class="l" style="left:2547px;width:183px;top:2204px;background:#e3e1e6"></div>
<div class="c" style="left:2px;width:108px;top:2206px">37</div>
<div class="l" style="left:2px;width:108px;top:2262px;background:#dedede"></div>
<div class="c n" style="left:112px;width:465px;top:2206px;padding-left:18px;width:447px"><i>日本</i>02-1X<i>倍率</i>-<b>IEPL</b><i>专线</i></div>
<div class="l" style="left:112px;width:465px;top:2262px;background:#dedede"></div>
<div class="c" style="left:579px;width:143px;top:2206px">Trojan</div>
<div class="l" style="left:579px;width:143px;top:2262px;background:#dedede"></div>
<div class="c" style="left:724px;width:166px;top:2206px;background:#b1f6d2">155ms</div>
<div class="l" style="left:724px;width:166px;top:2262px;background:#e3e1e6"></div>
<div class="c" style="left:892px;width:213px;top:2206px;background:#9ae0b8">655ms</div>
<div class="l" style="left:892px;width:213px;top:2262px;background:#e3e1e6"></div>
<div class="c" style="left:1107px;width:202px;top:2206px;background:#ffbcc3">27.01MB</div>
<div class="l" style="left:1107px;width:202px;top:2262px;background:#e3e1e6"></div>
<div class="c" style="left:1311px;width:202px;top:2206px;background:#ff9dbb">54.59MB</div>
<div class="l" style="left:1311px;width:202px;top:2262px;background:#e3e1e6"></div>
<div class="c" style="left:1515px;width:176px;top:2206px">
<div class="b" style="left:0px;width:29px;height:24px;background:#ffc0c4"></div>
<div class="b" style="left:29px;width:29px;height:49px;background:#ffa5bd"></div>
<div class="b" style="left:58px;width:29px;height:56px;background:#ff9dbb"></div>
<div class="b" style="left:87px;width:29px;height:17px;background:#ffc8c6"></div>
<div class="b" style="left:116px;width:29px;height:12px;background:#ffcdc7"></div>
<div class="b" style="left:145px;width:31px;height:6px;background:#ffd4c8"></div>
</div>
<div class="l" style="left:1515px;width:176px;top:2262px;background:#e3e1e6"></div>
<div class="c" style="left:1693px;width:178px;top:2206px;background:#bae67e"><i>解锁</i>(<b>JP</b>)</div>
<div class="l" style="left:1693px;width:178px;top:2262px;background:#e3e1e6"></div>
<div class="c" style="left:1873px;width:184px;top:2206px;background:#bae67e"><i>解锁</i>(<b>JP</b>)</div>
<div class="l" style="left:1873px;width:184px;top:2262px;background:#e3e1e6"></div>
<div class="c" style="left:2059px;width:184px;top:2206px;background:#bae67e"><i>解锁</i>(<b>JP</b>)</div>
<div class="l" style="left:2059px;width:184px;top:2262px;background:#e3e1e6"></div>
<div class="c" style="left:2245px;width:300px;top:2206px;background:#ee6b73"><i>失败</i></div>
<div class="l" style="left:2245px;width:300px;top:2262px;background:#e3e1e6"></div>
<div class="c" style="left:2547px;width:183px;top:2206px;background:#bae67e"><i>解锁</i>(<b>JP</b>)</div>
<div class="l" style="left:2547px;width:183px;top:2262px;background:#e3e1e6"></div>
<div class="c" style="left:2px;width:108px;top:2264px">38</div>
<div class="l" style="left:2px;width:108px;top:2320px;background:#dedede"></div>
<div class="c n" style="left:112px;width:465px;top:2264px;padding-left:18px;width:447px"><i>日本</i>03-1X<i>倍率</i>-<b>IEPL</b><i>专线</i></div>
<div class="l" style="left:112px;width:465px;top:2320px;background:#dedede"></div>
<div class="c" style="left:579px;width:143px;top:2264px">Trojan</div>
<div class="l" style="left:579px;width:143px;top:2320px;background:#dedede"></div>
<div class="c" style="left:724px;width:166px;top:2264px;background:#b1f5d2">158ms</div>
<div class="l" style="left:724px;width:166px;top:2320px;background:#e3e1e6"></div>
<div class="c" style="left:892px;width:213px;top:2264px;background:#85cda3">1034ms</div>
<div class="l" style="left:892px;width:213px;top:2320px;background:#e3e1e6"></div>
<div class="c" style="left:1107px;width:202px;top:2264px;background:#ffacbf">40.64MB</div>
<div class="l" style="left:1107px;width:202px;top:2320px;background:#e3e1e6"></div>
<div class="c" style="left:1311px;width:202px;top:2264px;background:#ff99ba">58.03MB</div>
<div class="l" style="left:1311px;width:202px;top:2320px;background:#e3e1e6"></div>
<div class="c" style="left:1515px;width:176px;top:2264px">
<div class="b" style="left:0px;width:29px;height:40px;background:#ffacbf"></div>
<div class="b" style="left:29px;width:29px;height:51px;background:#ff9fbc"></div>
<div class="b" style="left:58px;width:29px;height:56px;background:#ff99ba"></div>
<div class="b" style="left:87px;width:29px;height:51px;background:#ff9fbc"></div>
<div class="b" style="left:116px;width:29px;height:36px;background:#ffb0c0"></div>
</div>
<div class="l" style="left:1515px;width:176px;top:2320px;background:#e3e1e6"></div>
<div class="c" style="left:1693px;width:178px;top:2264px;background:#bae67e"><i>解锁</i>(<b>JP</b>)</div>
<div class="l" style="left:1693px;width:178px;top:2320px;background:#e3e1e6"></div>
<div class="c" style="left:1873px;width:184px;top:2264px;background:#bae67e"><i>解锁</i>(<b>JP</b>)</div>
<div class="l" style="left:1873px;width:184px;top:2320px;background:#e3e1e6"></div>
<div class="c" style="left:2059px;width:184px;top:2264px;background:#bae67e"><i>解锁</i>(<b>JP</b>)</div>
<div class="l" style="left:2059px;width:184px;top:2320px;background:#e3e1e6"></div>
<div class="c" style="left:2245px;width:300px;top:2264px;background:#ee6b73"><i>失败</i></div>
<div class="l" style="left:2245px;width:300px;top:2320px;background:#e3e1e6"></div>
<div class="c" style="left:2547px;width:183px;top:2264px;background:#bae67e"><i>解锁</i>(<b>JP</b>)</div>
<div class="l" style="left:2547px;width:183px;top:2320px;background:#e3e1e6"></div>
<div class="c" style="left:2px;width:108px;top:2322px">39</div>
<div class="l" style="left:2px;width:108px;top:2378px;background:#dedede"></div>
<div class="c n" style="left:112px;width:465px;top:2322px;padding-left:18px;width:447px"><i>日本</i>04-1X<i>倍率</i>-<b>IEPL</b><i>专线</i></div>
<div class="l" style="left:112px;width:465px;top:2378px;background:#dedede"></div>
<div class="c" style="left:579px;width:143px;top:2322px">Trojan</div>
<div class="l" style="left:579px;width:143px;top:2378px;background:#dedede"></div>
<div class="c" style="left:724px;width:166px;top:2322px;background:#acf1cd">260ms</div>
<div class="l" style="left:724px;width:166px;top:2378px;background:#e3e1e6"></div>
<div class="c" style="left:892px;width:213px;top:2322px;background:#95dbb3">745ms</div>
<div class="l" style="left:892px;width:213px;top:2378px;background:#e3e1e6"></div>
<div class="c" style="left:1107px;width:202px;top:2322px;background:#ffa6be">46.19MB</div>
<div class="l" style="left:1107px;width:202px;top:2378px;background:#e3e1e6"></div>
<div class="c" style="left:1311px;width:202px;top:2322px;background:#ff8cb7">69.28MB</div>
<div class="l" style="left:1311px;width:202px;top:2378px;background:#e3e1e6"></div>
<div class="c" style="left:1515px;width:176px;top:2322px">
<div class="b" style="left:0px;width:29px;height:23px;background:#ffbac2"></div>
<div class="b" style="left:29px;width:29px;height:37px;background:#ffa7be"></div>
<div class="b" style="left:58px;width:29px;height:40px;background:#ffa3bd"></div>
<div class="b" style="left:87px;width:29px;height:55px;background:#ff8eb8"></div>
<div class="b" style="left:116px;width:29px;height:56px;background:#ff8cb7"></div>
<div class="b" style="left:145px;width:31px;height:10px;background:#ffccc7"></div>
</div>
<div class="l" style="left:1515px;width:176px;top:2378px;background:#e3e1e6"></div>
<div class="c" style="left:1693px;width:178px;top:2322px;background:#bae67e"><i>解锁</i>(<b>JP</b>)</div>
<div class="l" style="left:1693px;width:178px;top:2378px;background:#e3e1e6"></div>
<div class="c" style="left:1873px;width:184px;top:2322px;background:#bae67e"><i>解锁</i>(<b>JP</b>)</div>
<div class="l" style="left:1873px;width:184px;top:2378px;background:#e3e1e6"></div>
<div class="c" style="left:2059px;width:184px;top:2322px;background:#bae67e"><i>解锁</i>(<b>JP</b>)</div>
<div class="l" style="left:2059px;width:184px;top:2378px;background:#e3e1e6"></div>
<div class="c" style="left:2245px;width:300px;top:2322px;background:#ee6b73"><i>失败</i></div>
<div class="l" style="left:2245px;width:300px;top:2378px;background:#e3e1e6"></div>
<div class="c" style="left:2547px;width:183px;top:2322px;background:#bae67e"><i>解锁</i>(<b>JP</b>)</div>
<div class="l" style="left:2547px;width:183px;top:2378px;background:#e3e1e6"></div>
<div class="c" style="left:2px;width:108px;top:2380px">40</div>
<div class="l" style="left:2px;width:108px;top:2436px;background:#dedede"></div>
<div class="c n" style="left:112px;width:465px;top:2380px;padding-left:18px;width:447px"><i>日本</i>05-1X<i>倍率</i>-<b>IEPL</b><i>专线</i></div>
<div class="l" style="left:112px;width:465px;top:2436px;background:#dedede"></div>
<div class="c" style="left:579px;width:143px;top:2380px">Trojan</div>
<div class="l" style="left:579px;width:143px;top:2436px;background:#dedede"></div>
<div class="c" style="left:724px;width:166px;top:2380px;background:#b1f5d2">165ms</div>
<div class="l" style="left:724px;width:166px;top:2436px;background:#e3e1e6"></div>
<div class="c" style="left:892px;width:213px;top:2380px;background:#96ddb4">715ms</div>
<div class="l" style="left:892px;width:213px;top:2436px;background:#e3e1e6"></div>
<div class="c" style="left:1107px;width:202px;top:2380px;background:#ff95b9">61.44MB</div>
<div class="l" style="left:1107px;width:202px;top:2436px;background:#e3e1e6"></div>
<div class="c" style="left:1311px;width:202px;top:2380px;background:#ff68af">101.59MB</div>
<div class="l" style="left:1311px;width:202px;top:2436px;background:#e3e1e6"></div>
<div class="c" style="left:1515px;width:176px;top:2380px">
<div class="b" style="left:0px;width:29px;height:12px;background:#ffc2c4"></div>
<div class="b" style="left:29px;width:29px;height:15px;background:#ffbcc3"></div>
<div class="b" style="left:58px;width:29px;height:20px;background:#ffb1c0"></div>
<div class="b" style="left:87px;width:29px;height:44px;background:#ff81b4"></div>
<div class="b" style="left:116px;width:29px;height:53px;background:#ff6eb0"></div>
<div class="b" style="left:145px;width:31px;height:56px;background:#ff68af"></div>
</div>
<div class="l" style="left:1515px;width:176px;top:2436px;background:#e3e1e6"></div>
<div class="c" style="left:1693px;width:178px;top:2380px;background:#bae67e"><i>解锁</i>(<b>JP</b>)</div>
<div class="l" style="left:1693px;width:178px;top:2436px;background:#e3e1e6"></div>
<div class="c" style="left:1873px;width:184px;top:2380px;background:#bae67e"><i>解锁</i>(<b>JP</b>)</div>
<div class="l" style="left:1873px;width:184px;top:2436px;background:#e3e1e6"></div>
<div class="c" style="left:2059px;width:184px;top:2380px;background:#bae67e"><i>解锁</i>(<b>JP</b>)</div>
<div class="l" style="left:2059px;width:184px;top:2436px;background:#e3e1e6"></div>
<div class="c" style="left:2245px;width:300px;top:2380px;background:#ee6b73"><i>失败</i></div>
<div class="l" style="left:2245px;width:300px;top:2436px;background:#e3e1e6"></div>
<div class="c" style="left:2547px;width:183px;top:2380px;background:#bae67e"><i>解锁</i>(<b>JP</b>)</div>
<div class="l" style="left:2547px;width:183px;top:2436px;background:#e3e1e6"></div>
<div class="c" style="left:2px;width:108px;top:2438px">41</div>
<div class="l" style="left:2px;width:108px;top:2494px;background:#dedede"></div>
<div class="c n" style="left:112px;width:465px;top:2438px;padding-left:18px;width:447px"><i>日本</i>06-1X<i>倍率</i></div>
<div class="l" style="left:112px;width:465px;top:2494px;background:#dedede"></div>
<div class="c" style="left:579px;width:143px;top:2438px">Trojan</div>
<div class="l" style="left:579px;width:143px;top:2494px;background:#dedede"></div>
<div class="c" style="left:724px;width:166px;top:2438px;background:#a7ecc8">369ms</div>
<div class="l" style="left:724px;width:166px;top:2494px;background:#e3e1e6"></div>
<div class="c" style="left:892px;width:213px;top:2438px;background:#8ed5ac">873ms</div>
<div class="l" style="left:892px;width:213px;top:2494px;background:#e3e1e6"></div>
<div class="c" style="left:1107px;width:202px;top:2438px;background:#ffa7be">45.29MB</div>
<div class="l" style="left:1107px;width:202px;top:2494px;background:#e3e1e6"></div>
<div class="c" style="left:1311px;width:202px;top:2438px;background:#ff7bb3">85.00MB</div>
<div class="l" style="left:1311px;width:202px;top:2494px;background:#e3e1e6"></div>
<div class="c" style="left:1515px;width:176px;top:2438px">
<div class="b" style="left:0px;width:29px;height:21px;background:#ffb6c1"></div>
<div class="b" style="left:29px;width:29px;height:26px;background:#ffaebf"></div>
<div class="b" style="left:58px;width:29px;height:28px;background:#ffaabf"></div>
<div class="b" style="left:87px;width:29px;height:27px;background:#ffacbf"></div>
<div class="b" style="left:116px;width:29px;height:56px;background:#ff7bb3"></div>
<div class="b" style="left:145px;width:31px;height:20px;background:#ffb8c2"></div>
</div>
<div class="l" style="left:1515px;width:176px;top:2494px;background:#e3e1e6"></div>
<div class="c" style="left:1693px;width:178px;top:2438px;background:#bae67e"><i>解锁</i>(<b>JP</b>)</div>
<div class="l" style="left:1693px;width:178px;top:2494px;background:#e3e1e6"></div>
<div class="c" style="left:1873px;width:184px;top:2438px;background:#bae67e"><i>解锁</i>(<b>JP</b>)</div>
<div class="l" style="left:1873px;width:184px;top:2494px;background:#e3e1e6"></div>
<div class="c" style="left:2059px;width:184px;top:2438px;background:#bae67e"><i>解锁</i>(<b>JP</b>)</div>
<div class="l" style="left:2059px;width:184px;top:2494px;background:#e3e1e6"></div>
<div class="c" style="left:2245px;width:300px;top:2438px;background:#ee6b73"><i>失败</i></div>
<div class="l" style="left:2245px;width:300px;top:2494px;background:#e3e1e6"></div>
<div class="c" style="left:2547px;width:183px;top:2438px;background:#bae67e"><i>解锁</i>(<b>JP</b>)</div>
<div class="l" style="left:2547px;width:183px;top:2494px;background:#e3e1e6"></div>
<div class="c" style="left:2px;width:108px;top:2496px">42</div>
<div class="l" style="left:2px;width:108px;top:2552px;background:#dedede"></div>
<div class="c n" style="left:112px;width:465px;top:2496px;padding-left:18px;width:447px"><i>日本</i>07-1X<i>倍率</i></div>
<div class="l" style="left:112px;width:465px;top:2552px;background:#dedede"></div>
<div class="c" style="left:579px;width:143px;top:2496px">Trojan</div>
<div class="l" style="left:579px;width:143px;top:2552px;background:#dedede"></div>
<div class="c" style="left:724px;width:166px;top:2496px;background:#98deb6">686ms</div>
<div class="l" style="left:724px;width:166px;top:2552px;background:#e3e1e6"></div>
<div class="c" style="left:892px;width:213px;top:2496px;background:#7bc499">1212ms</div>
<div class="l" style="left:892px;width:213px;top:2552px;background:#e3e1e6"></div>
<div class="c" style="left:1107px;width:202px;top:2496px;background:#ffacbf">40.67MB</div>
<div class="l" style="left:1107px;width:202px;top:2552px;background:#e3e1e6"></div>
<div class="c" style="left:1311px;width:202px;top:2496px;background:#ff86b6">74.86MB</div>
<div class="l" style="left:1311px;width:202px;top:2552px;background:#e3e1e6"></div>
<div class="c" style="left:1515px;width:176px;top:2496px">
<div class="b" style="left:0px;width:29px;height:12px;background:#ffc8c6"></div>
<div class="b" style="left:29px;width:29px;height:18px;background:#ffbfc4"></div>
<div class="b" style="left:58px;width:29px;height:15px;background:#ffc4c5"></div>
<div class="b" style="left:87px;width:29px;height:28px;background:#ffb0c0"></div>
<div class="b" style="left:116px;width:29px;height:51px;background:#ff8eb8"></div>
<div class="b" style="left:145px;width:31px;height:56px;background:#ff86b6"></div>
</div>
<div class="l" style="left:1515px;width:176px;top:2552px;background:#e3e1e6"></div>
<div class="c" style="left:1693px;width:178px;top:2496px;background:#bae67e"><i>解锁</i>(<b>JP</b>)</div>
<div class="l" style="left:1693px;width:178px;top:2552px;background:#e3e1e6"></div>
<div class="c" style="left:1873px;width:184px;top:2496px;background:#bae67e"><i>解锁</i>(<b>JP</b>)</div>
<div class="l" style="left:1873px;width:184px;top:2552px;background:#e3e1e6"></div>
<div class="c" style="left:2059px;width:184px;top:2496px;background:#bae67e"><i>解锁</i>(<b>JP</b>)</div>
<div class="l" style="left:2059px;width:184px;top:2552px;background:#e3e1e6"></div>
<div class="c" style="left:2245px;width:300px;top:2496px;background:#ee6b73"><i>失败</i></div>
<div class="l" style="left:2245px;width:300px;top:2552px;background:#e3e1e6"></div>
<div class="c" style="left:2547px;width:183px;top:2496px;background:#bae67e"><i>解锁</i>(<b>JP</b>)</div>
<div class="l" style="left:2547px;width:183px;top:2552px;background:#e3e1e6"></div>
<div class="c" style="left:2px;width:108px;top:2554px">43</div>
<div class="l" style="left:2px;width:108px;top:2610px;background:#dedede"></div>
<div class="c n" style="left:112px;width:465px;top:2554px;padding-left:18px;width:447px"><i>日本</i>08-1X<i>倍率</i></div>
<div class="l" style="left:112px;width:465px;top:2610px;background:#dedede"></div>
<div class="c" style="left:579px;width:143px;top:2554px">Trojan</div>
<div class="l" style="left:579px;width:143px;top:2610px;background:#dedede"></div>
<div class="c" style="left:724px;width:166px;top:2554px;background:#b1f6d2">153ms</div>
<div class="l" style="left:724px;width:166px;top:2610px;background:#e3e1e6"></div>
<div class="c" style="left:892px;width:213px;top:2554px;background:#94dab2">761ms</div>
<div class="l" style="left:892px;width:213px;top:2610px;background:#e3e1e6"></div>
<div class="c" style="left:1107px;width:202px;top:2554px;background:#ffbcc3">26.94MB</div>
<div class="l" style="left:1107px;width:202px;top:2610px;background:#e3e1e6"></div>
<div class="c" style="left:1311px;width:202px;top:2554px;background:#ffa4bd">48.65MB</div>
<div class="l" style="left:1311px;width:202px;top:2610px;background:#e3e1e6"></div>
<div class="c" style="left:1515px;width:176px;top:2554px">
<div class="b" style="left:0px;width:29px;height:24px;background:#ffc2c4"></div>
<div class="b" style="left:29px;width:29px;height:29px;background:#ffbdc3"></div>
<div class="b" style="left:58px;width:29px;height:26px;background:#ffc0c4"></div>
<div class="b" style="left:87px;width:29px;height:18px;background:#ffc8c6"></div>
<div class="b" style="left:116px;width:29px;height:28px;background:#ffbec3"></div>
<div class="b" style="left:145px;width:31px;height:54px;background:#ffa4bd"></div>
</div>
<div class="l" style="left:1515px;width:176px;top:2610px;background:#e3e1e6"></div>
<div class="c" style="left:1693px;width:178px;top:2554px;background:#bae67e"><i>解锁</i>(<b>JP</b>)</div>
<div class="l" style="left:1693px;width:178px;top:2610px;background:#e3e1e6"></div>
<div class="c" style="left:1873px;width:184px;top:2554px;background:#bae67e"><i>解锁</i>(<b>JP</b>)</div>
<div class="l" style="left:1873px;width:184px;top:2610px;background:#e3e1e6"></div>
<div class="c" style="left:2059px;width:184px;top:2554px;background:#bae67e"><i>解锁</i>(<b>JP</b>)</div>
<div class="l" style="left:2059px;width:184px;top:2610px;background:#e3e1e6"></div>
<div class="c" style="left:2245px;width:300px;top:2554px;background:#ee6b73"><i>失败</i></div>
<div class="l" style="left:2245px;width:300px;top:2610px;background:#e3e1e6"></div>
<div class="c" style="left:2547px;width:183px;top:2554px;background:#bae67e"><i>解锁</i>(<b>JP</b>)</div>
<div class="l" style="left:2547px;width:183px;top:2610px;background:#e3e1e6"></div>
<div class="c" style="left:2px;width:108px;top:2612px">44</div>
<div class="l" style="left:2px;width:108px;top:2668px;background:#dedede"></div>
<div class="c n" style="left:112px;width:465px;top:2612px;padding-left:18px;width:447px"><i>日本</i>09-1X<i>倍率</i></div>
<div class="l" style="left:112px;width:465px;top:2668px;background:#dedede"></div>
<div class="c" style="left:579px;width:143px;top:2612px">Trojan</div>
<div class="l" style="left:579px;width:143px;top:2668px;background:#dedede"></div>
<div class="c" style="left:724px;width:166px;top:2612px;background:#b1f6d2">155ms</div>
<div class="l" style="left:724px;width:166px;top:2668px;background:#e3e1e6"></div>
<div class="c" style="left:892px;width:213px;top:2612px;background:#9ce1ba">617ms</div>
<div class="l" style="left:892px;width:213px;top:2668px;background:#e3e1e6"></div>
<div class="c" style="left:1107px;width:202px;top:2612px;background:#ffbdc3">26.07MB</div>
<div class="l" style="left:1107px;width:202px;top:2668px;background:#e3e1e6"></div>
<div class="c" style="left:1311px;width:202px;top:2612px;background:#ffb5c1">32.59MB</div>
<div class="l" style="left:1311px;width:202px;top:2668px;background:#e3e1e6"></div>
<div class="c" style="left:1515px;width:176px;top:2612px">
<div class="b" style="left:0px;width:29px;height:26px;background:#ffc0c4"></div>
<div class="b" style="left:29px;width:29px;height:24px;background:#ffc2c4"></div>
<div class="b" style="left:58px;width:29px;height:24px;background:#ffc2c4"></div>
<div class="b" style="left:87px;width:29px;height:28px;background:#ffbec3"></div>
<div class="b" style="left:116px;width:29px;height:34px;background:#ffb8c2"></div>
<div class="b" style="left:145px;width:31px;height:36px;background:#ffb6c1"></div>
</div>
<div class="l" style="left:1515px;width:176px;top:2668px;background:#e3e1e6"></div>
<div class="c" style="left:1693px;width:178px;top:2612px;background:#bae67e"><i>解锁</i>(<b>JP</b>)</div>
<div class="l" style="left:1693px;width:178px;top:2668px;background:#e3e1e6"></div>
<div class="c" style="left:1873px;width:184px;top:2612px;background:#bae67e"><i>解锁</i>(<b>JP</b>)</div>
<div class="l" style="left:1873px;width:184px;top:2668px;background:#e3e1e6"></div>
<div class="c" style="left:2059px;width:184px;top:2612px;background:#bae67e"><i>解锁</i>(<b>JP</b>)</div>
<div class="l" style="left:2059px;width:184px;top:2668px;background:#e3e1e6"></div>
<div class="c" style="left:2245px;width:300px;top:2612px;background:#ee6b73"><i>失败</i></div>
<div class="l" style="left:2245px;width:300px;top:2668px;background:#e3e1e6"></div>
<div class="c" style="left:2547px;width:183px;top:2612px;background:#bae67e"><i>解锁</i>(<b>JP</b>)</div>
<div class="l" style="left:2547px;width:183px;top:2668px;background:#e3e1e6"></div>
<div class="c" style="left:2px;width:108px;top:2670px">45</div>
<div class="l" style="left:2px;width:108px;top:2726px;background:#dedede"></div>
<div class="c n" style="left:112px;width:465px;top:2670px;padding-left:18px;width:447px"><i>日本</i>10-1X<i>倍率</i></div>
<div class="l" style="left:112px;width:465px;top:2726px;background:#dedede"></div>
<div class="c" style="left:579px;width:143px;top:2670px">Trojan</div>
<div class="l" style="left:579px;width:143px;top:2726px;background:#dedede"></div>
<div class="c" style="left:724px;width:166px;top:2670px;background:#b2f7d3">132ms</div>
<div class="l" style="left:724px;width:166px;top:2726px;background:#e3e1e6"></div>
<div class="c" style="left:892px;width:213px;top:2670px;background:#8ad1a8">953ms</div>
<div class="l" style="left:892px;width:213px;top:2726px;background:#e3e1e6"></div>
<div class="c" style="left:1107px;width:202px;top:2670px;background:#ffc2c4">21.75MB</div>
<div class="l" style="left:1107px;width:202px;top:2726px;background:#e3e1e6"></div>
<div class="c" style="left:1311px;width:202px;top:2670px;background:#ffbac2">28.72MB</div>
<div class="l" style="left:1311px;width:202px;top:2726px;background:#e3e1e6"></div>
<div class="c" style="left:1515px;width:176px;top:2670px">
<div class="b" style="left:0px;width:29px;height:28px;background:#ffbec3"></div>
<div class="b" style="left:29px;width:29px;height:32px;background:#ffbac2"></div>
<div class="b" style="left:58px;width:29px;height:22px;background:#ffc4c5"></div>
<div class="b" style="left:87px;width:29px;height:17px;background:#ffc9c6"></div>
<div class="b" style="left:116px;width:29px;height:29px;background:#ffbdc3"></div>
<div class="b" style="left:145px;width:31px;height:16px;background:#ffcac6"></div>
</div>
<div class="l" style="left:1515px;width:176px;top:2726px;background:#e3e1e6"></div>
<div class="c" style="left:1693px;width:178px;top:2670px;background:#bae67e"><i>解锁</i>(<b>JP</b>)</div>
<div class="l" style="left:1693px;width:178px;top:2726px;background:#e3e1e6"></div>
<div class="c" style="left:1873px;width:184px;top:2670px;background:#bae67e"><i>解锁</i>(<b>JP</b>)</div>
<div class="l" style="left:1873px;width:184px;top:2726px;background:#e3e1e6"></div>
<div class="c" style="left:2059px;width:184px;top:2670px;background:#bae67e"><i>解锁</i>(<b>JP</b>)</div>
<div class="l" style="left:2059px;width:184px;top:2726px;background:#e3e1e6"></div>
<div class="c" style="left:2245px;width:300px;top:2670px;background:#ee6b73"><i>失败</i></div>
<div class="l" style="left:2245px;width:300px;top:2726px;background:#e3e1e6"></div>
<div class="c" style="left:2547px;width:183px;top:2670px;background:#bae67e"><i>解锁</i>(<b>JP</b>)</div>
<div class="l" style="left:2547px;width:183px;top:2726px;background:#e3e1e6"></div>
<div class="c" style="left:2px;width:108px;top:2728px">46</div>
<div class="l" style="left:2px;width:108px;top:2784px;background:#dedede"></div>
<div class="c n" style="left:112px;width:465px;top:2728px;padding-left:18px;width:447px"><i>美国</i>01-1X<i>倍率</i>-<b>IEPL</b><i>专线</i></div>
<div class="l" style="left:112px;width:465px;top:2784px;background:#dedede"></div>
<div class="c" style="left:579px;width:143px;top:2728px">Trojan</div>
<div class="l" style="left:579px;width:143px;top:2784px;background:#dedede"></div>
<div class="c" style="left:724px;width:166px;top:2728px;background:#adf2ce">242ms</div>
<div class="l" style="left:724px;width:166px;top:2784px;background:#e3e1e6"></div>
<div class="c" style="left:892px;width:213px;top:2728px;background:#85cda3">1039ms</div>
<div class="l" style="left:892px;width:213px;top:2784px;background:#e3e1e6"></div>
<div class="c" style="left:1107px;width:202px;top:2728px;background:#ffd4c8">5.70MB</div>
<div class="l" style="left:1107px;width:202px;top:2784px;background:#e3e1e6"></div>
<div class="c" style="left:1311px;width:202px;top:2728px;background:#ffcdc7">11.55MB</div>
<div class="l" style="left:1311px;width:202px;top:2784px;background:#e3e1e6"></div>
<div class="c" style="left:1515px;width:176px;top:2728px">
<div class="b" style="left:0px;width:29px;height:7px;background:#ffd3c8"></div>
<div class="b" style="left:29px;width:29px;height:8px;background:#ffd2c8"></div>
<div class="b" style="left:58px;width:29px;height:5px;background:#ffd5c9"></div>
<div class="b" style="left:87px;width:29px;height:3px;background:#ffd7c9"></div>
<div class="b" style="left:116px;width:29px;height:12px;background:#ffcec7"></div>
</div>
<div class="l" style="left:1515px;width:176px;top:2784px;background:#e3e1e6"></div>
<div class="c" style="left:1693px;width:178px;top:2728px;background:#bae67e"><i>解锁</i>(<b>US</b>)</div>
<div class="l" style="left:1693px;width:178px;top:2784px;background:#e3e1e6"></div>
<div class="c" style="left:1873px;width:184px;top:2728px;background:#bae67e"><i>解锁</i>(<b>US</b>)</div>
<div class="l" style="left:1873px;width:184px;top:2784px;background:#e3e1e6"></div>
<div class="c" style="left:2059px;width:184px;top:2728px;background:#bae67e"><i>解锁</i>(<b>US</b>)</div>
<div class="l" style="left:2059px;width:184px;top:2784px;background:#e3e1e6"></div>
<div class="c" style="left:2245px;width:300px;top:2728px;background:#ee6b73"><i>失败</i></div>
<div class="l" style="left:2245px;width:300px;top:2784px;background:#e3e1e6"></div>
<div class="c" style="left:2547px;width:183px;top:2728px;background:#bae67e"><i>解锁</i>(<b>US</b>)</div>
<div class="l" style="left:2547px;width:183px;top:2784px;background:#e3e1e6"></div>
<div class="c" style="left:2px;width:108px;top:2786px">47</div>
<div class="l" style="left:2px;width:108px;top:2842px;background:#dedede"></div>
<div class="c n" style="left:112px;width:465px;top:2786px;padding-left:18px;width:447px"><i>美国</i>02-1X<i>倍率</i>-<b>IEPL</b><i>专线</i></div>
<div class="l" style="left:112px;width:465px;top:2842px;background:#dedede"></div>
<div class="c" style="left:579px;width:143px;top:2786px">Trojan</div>
<div class="l" style="left:579px;width:143px;top:2842px;background:#dedede"></div>
<div class="c" style="left:724px;width:166px;top:2786px;background:#a8edc8">358ms</div>
<div class="l" style="left:724px;width:166px;top:2842px;background:#e3e1e6"></div>
<div class="c" style="left:892px;width:213px;top:2786px;background:#6ab488">1524ms</div>
<div class="l" style="left:892px;width:213px;top:2842px;background:#e3e1e6"></div>
<div class="c" style="left:1107px;width:202px;top:2786px;background:#ffbbc3">27.53MB</div>
<div class="l" style="left:1107px;width:202px;top:2842px;background:#e3e1e6"></div>
<div class="c" style="left:1311px;width:202px;top:2786px;background:#ff89b7">71.97MB</div>
<div class="l" style="left:1311px;width:202px;top:2842px;background:#e3e1e6"></div>
<div class="c" style="left:1515px;width:176px;top:2786px">
<div class="b" style="left:0px;width:29px;height:4px;background:#ffd4c9"></div>
<div class="b" style="left:29px;width:29px;height:12px;background:#ffc9c6"></div>
<div class="b" style="left:58px;width:29px;height:23px;background:#ffb9c2"></div>
<div class="b" style="left:87px;width:29px;height:56px;background:#ff89b7"></div>
<div class="b" style="left:116px;width:29px;height:32px;background:#ffacbf"></div>
</div>
<div class="l" style="left:1515px;width:176px;top:2842px;background:#e3e1e6"></div>
<div class="c" style="left:1693px;width:178px;top:2786px;background:#bae67e"><i>解锁</i>(<b>US</b>)</div>
<div class="l" style="left:1693px;width:178px;top:2842px;background:#e3e1e6"></div>
<div class="c" style="left:1873px;width:184px;top:2786px;background:#bae67e"><i>解锁</i>(<b>US</b>)</div>
<div class="l" style="left:1873px;width:184px;top:2842px;background:#e3e1e6"></div>
<div class="c" style="left:2059px;width:184px;top:2786px;background:#bae67e"><i>解锁</i>(<b>US</b>)</div>
<div class="l" style="left:2059px;width:184px;top:2842px;background:#e3e1e6"></div>
<div class="c" style="left:2245px;width:300px;top:2786px;background:#ee6b73"><i>失败</i></div>
<div class="l" style="left:2245px;width:300px;top:2842px;background:#e3e1e6"></div>
<div class="c" style="left:2547px;width:183px;top:2786px;background:#bae67e"><i>解锁</i>(<b>US</b>)</div>
<div class="l" style="left:2547px;width:183px;top:2842px;background:#e3e1e6"></div>
<div class="c" style="left:2px;width:108px;top:2844px">48</div>
<div class="l" style="left:2px;width:108px;top:2900px;background:#dedede"></div>
<div class="c n" style="left:112px;width:465px;top:2844px;padding-left:18px;width:447px"><i>美国</i>03-1X<i>倍率</i>-<b>IEPL</b><i>专线</i></div>
<div class="l" style="left:112px;width:465px;top:2900px;background:#dedede"></div>
<div class="c" style="left:579px;width:143px;top:2844px">Trojan</div>
<div class="l" style="left:579px;width:143px;top:2900px;background:#dedede"></div>
<div class="c" style="left:724px;width:166px;top:2844px;background:#acf1cd">267ms</div>
<div class="l" style="left:724px;width:166px;top:2900px;background:#e3e1e6"></div>
<div class="c" style="left:892px;width:213px;top:2844px;background:#72bb90">1386ms</div>
<div class="l" style="left:892px;width:213px;top:2900px;background:#e3e1e6"></div>
<div class="c" style="left:1107px;width:202px;top:2844px;background:#ffc9c6">14.86MB</div>
<div class="l" style="left:1107px;width:202px;top:2900px;background:#e3e1e6"></div>
<div class="c" style="left:1311px;width:202px;top:2844px;background:#ffb9c2">29.66MB</div>
<div class="l" style="left:1311px;width:202px;top:2900px;background:#e3e1e6"></div>
<div class="c" style="left:1515px;width:176px;top:2844px">
<div class="b" style="left:0px;width:29px;height:33px;background:#ffb9c2"></div>
<div class="b" style="left:29px;width:29px;height:31px;background:#ffbbc3"></div>
<div class="b" style="left:58px;width:29px;height:10px;background:#ffd0c8"></div>
<div class="b" style="left:87px;width:29px;height:6px;background:#ffd4c9"></div>
<div class="b" style="left:116px;width:29px;height:17px;background:#ffc9c6"></div>
<div class="b" style="left:145px;width:31px;height:1px;background:#ffd9ca"></div>
</div>
<div class="l" style="left:1515px;width:176px;top:2900px;background:#e3e1e6"></div>
<div class="c" style="left:1693px;width:178px;top:2844px;background:#bae67e"><i>解锁</i>(<b>US</b>)</div>
<div class="l" style="left:1693px;width:178px;top:2900px;background:#e3e1e6"></div>
<div class="c" style="left:1873px;width:184px;top:2844px;background:#bae67e"><i>解锁</i>(<b>US</b>)</div>
<div class="l" style="left:1873px;width:184px;top:2900px;background:#e3e1e6"></div>
<div class="c" style="left:2059px;width:184px;top:2844px;background:#bae67e"><i>解锁</i>(<b>US</b>)</div>
<div class="l" style="left:2059px;width:184px;top:2900px;background:#e3e1e6"></div>
<div class="c" style="left:2245px;width:300px;top:2844px;background:#ee6b73"><i>失败</i></div>
<div class="l" style="left:2245px;width:300px;top:2900px;background:#e3e1e6"></div>
<div class="c" style="left:2547px;width:183px;top:2844px;background:#bae67e"><i>解锁</i>(<b>US</b>)</div>
<div class="l" style="left:2547px;width:183px;top:2900px;background:#e3e1e6"></div>
<div class="c" style="left:2px;width:108px;top:2902px">49</div>
<div class="l" style="left:2px;width:108px;top:2958px;background:#dedede"></div>
<div class="c n" style="left:112px;width:465px;top:2902px;padding-left:18px;width:447px"><i>美国</i>04-1X<i>倍率</i>-<b>IEPL</b><i>专线</i></div>
<div class="l" style="left:112px;width:465px;top:2958px;background:#dedede"></div>
<div class="c" style="left:579px;width:143px;top:2902px">Trojan</div>
<div class="l" style="left:579px;width:143px;top:2958px;background:#dedede"></div>
<div class="c" style="left:724px;width:166px;top:2902px;background:#a9edc9">345ms</div>
<div class="l" style="left:724px;width:166px;top:2958px;background:#e3e1e6"></div>
<div class="c" style="left:892px;width:213px;top:2902px;background:#81c99f">1118ms</div>
<div class="l" style="left:892px;width:213px;top:2958px;background:#e3e1e6"></div>
<div class="c" style="left:1107px;width:202px;top:2902px;background:#ffc1c4">22.19MB</div>
<div class="l" style="left:1107px;width:202px;top:2958px;background:#e3e1e6"></div>
<div class="c" style="left:1311px;width:202px;top:2902px;background:#ffb5c1">33.47MB</div>
<div class="l" style="left:1311px;width:202px;top:2958px;background:#e3e1e6"></div>
<div class="c" style="left:1515px;width:176px;top:2902px">
<div class="b" style="left:0px;width:29px;height:37px;background:#ffb5c1"></div>
<div class="b" style="left:29px;width:29px;height:36px;background:#ffb6c1"></div>
<div class="b" style="left:58px;width:29px;height:22px;background:#ffc4c5"></div>
<div class="b" style="left:87px;width:29px;height:34px;background:#ffb8c2"></div>
<div class="b" style="left:116px;width:29px;height:18px;background:#ffc8c6"></div>
</div>
<div class="l" style="left:1515px;width:176px;top:2958px;background:#e3e1e6"></div>
<div class="c" style="left:1693px;width:178px;top:2902px;background:#bae67e"><i>解锁</i>(<b>US</b>)</div>
<div class="l" style="left:1693px;width:178px;top:2958px;background:#e3e1e6"></div>
<div class="c" style="left:1873px;width:184px;top:2902px;background:#bae67e"><i>解锁</i>(<b>US</b>)</div>
<div class="l" style="left:1873px;width:184px;top:2958px;background:#e3e1e6"></div>
<div class="c" style="left:2059px;width:184px;top:2902px;background:#bae67e"><i>解锁</i>(<b>US</b>)</div>
<div class="l" style="left:2059px;width:184px;top:2958px;background:#e3e1e6"></div>
<div class="c" style="left:2245px;width:300px;top:2902px;background:#ee6b73"><i>失败</i></div>
<div class="l" style="left:2245px;width:300px;top:2958px;background:#e3e1e6"></div>
<div class="c" style="left:2547px;width:183px;top:2902px;background:#bae67e"><i>解锁</i>(<b>US</b>)</div>
<div class="l" style="left:2547px;width:183px;top:2958px;background:#e3e1e6"></div>
<div class="c" style="left:2px;width:108px;top:2960px">50</div>
<div class="l" style="left:2px;width:108px;top:3016px;background:#dedede"></div>
<div class="c n" style="left:112px;width:465px;top:2960px;padding-left:18px;width:447px"><i>美国</i>05-1X<i>倍率</i>-<b>IEPL</b><i>专线</i></div>
<div class="l" style="left:112px;width:465px;top:3016px;background:#dedede"></div>
<div class="c" style="left:579px;width:143px;top:2960px">Trojan</div>
<div class="l" style="left:579px;width:143px;top:3016px;background:#dedede"></div>
<div class="c" style="left:724px;width:166px;top:2960px;background:#9ce2bb">605ms</div>
<div class="l" style="left:724px;width:166px;top:3016px;background:#e3e1e6"></div>
<div class="c" style="left:892px;width:213px;top:2960px;background:#5ca77a">1781ms</div>
<div class="l" style="left:892px;width:213px;top:3016px;background:#e3e1e6"></div>
<div class="c" style="left:1107px;width:202px;top:2960px;background:#ffc3c4">20.72MB</div>
<div class="l" style="left:1107px;width:202px;top:3016px;background:#e3e1e6"></div>
<div class="c" style="left:1311px;width:202px;top:2960px;background:#ffa3bd">48.69MB</div>
<div class="l" style="left:1311px;width:202px;top:3016px;background:#e3e1e6"></div>
<div class="c" style="left:1515px;width:176px;top:2960px">
<div class="b" style="left:0px;width:29px;height:9px;background:#ffd1c8"></div>
<div class="b" style="left:29px;width:29px;height:54px;background:#ffa4bd"></div>
<div class="b" style="left:58px;width:29px;height:9px;background:#ffd1c8"></div>
<div class="b" style="left:87px;width:29px;height:28px;background:#ffbec3"></div>
<div class="b" style="left:116px;width:29px;height:28px;background:#ffbec3"></div>
<div class="b" style="left:145px;width:31px;height:8px;background:#ffd2c8"></div>
</div>
<div class="l" style="left:1515px;width:176px;top:3016px;background:#e3e1e6"></div>
<div class="c" style="left:1693px;width:178px;top:2960px;background:#bae67e"><i>解锁</i>(<b>US</b>)</div>
<div class="l" style="left:1693px;width:178px;top:3016px;background:#e3e1e6"></div>
<div class="c" style="left:1873px;width:184px;top:2960px;background:#bae67e"><i>解锁</i>(<b>US</b>)</div>
<div class="l" style="left:1873px;width:184px;top:3016px;background:#e3e1e6"></div>
<div class="c" style="left:2059px;width:184px;top:2960px;background:#bae67e"><i>解锁</i>(<b>US</b>)</div>
<div class="l" style="left:2059px;width:184px;top:3016px;background:#e3e1e6"></div>
<div class="c" style="left:2245px;width:300px;top:2960px;background:#ee6b73"><i>失败</i></div>
<div class="l" style="left:2245px;width:300px;top:3016px;background:#e3e1e6"></div>
<div class="c" style="left:2547px;width:183px;top:2960px;background:#bae67e"><i>解锁</i>(<b>US</b>)</div>
<div class="l" style="left:2547px;width:183px;top:3016px;background:#e3e1e6"></div>
<div class="c" style="left:2px;width:108px;top:3018px">51</div>
<div class="l" style="left:2px;width:108px;top:3074px;background:#dedede"></div>
<div class="c n" style="left:112px;width:465px;top:3018px;padding-left:18px;width:447px"><i>美国</i>06-1X<i>倍率</i></div>
<div class="l" style="left:112px;width:465px;top:3074px;background:#dedede"></div>
<div class="c" style="left:579px;width:143px;top:3018px">Trojan</div>
<div class="l" style="left:579px;width:143px;top:3074px;background:#dedede"></div>
<div class="c" style="left:724px;width:166px;top:3018px;background:#adf2ce">246ms</div>
<div class="l" style="left:724px;width:166px;top:3074px;background:#e3e1e6"></div>
<div class="c" style="left:892px;width:213px;top:3018px;background:#86cda4">1024ms</div>
<div class="l" style="left:892px;width:213px;top:3074px;background:#e3e1e6"></div>
<div class="c" style="left:1107px;width:202px;top:3018px;background:#ffbfc4">23.88MB</div>
<div class="l" style="left:1107px;width:202px;top:3074px;background:#e3e1e6"></div>
<div class="c" style="left:1311px;width:202px;top:3018px;background:#ffb2c0">35.44MB</div>
<div class="l" style="left:1311px;width:202px;top:3074px;background:#e3e1e6"></div>
<div class="c" style="left:1515px;width:176px;top:3018px">
<div class="b" style="left:0px;width:29px;height:39px;background:#ffb3c1"></div>
<div class="b" style="left:29px;width:29px;height:32px;background:#ffbac2"></div>
<div class="b" style="left:58px;width:29px;height:26px;background:#ffc0c4"></div>
<div class="b" style="left:87px;width:29px;height:39px;background:#ffb3c1"></div>
<div class="b" style="left:116px;width:29px;height:22px;background:#ffc4c5"></div>
</div>
<div class="l" style="left:1515px;width:176px;top:3074px;background:#e3e1e6"></div>
<div class="c" style="left:1693px;width:178px;top:3018px;background:#bae67e"><i>解锁</i>(<b>US</b>)</div>
<div class="l" style="left:1693px;width:178px;top:3074px;background:#e3e1e6"></div>
<div class="c" style="left:1873px;width:184px;top:3018px;background:#bae67e"><i>解锁</i>(<b>US</b>)</div>
<div class="l" style="left:1873px;width:184px;top:3074px;background:#e3e1e6"></div>
<div class="c" style="left:2059px;width:184px;top:3018px;background:#bae67e"><i>解锁</i>(<b>US</b>)</div>
<div class="l" style="left:2059px;width:184px;top:3074px;background:#e3e1e6"></div>
<div class="c" style="left:2245px;width:300px;top:3018px;background:#ee6b73"><i>失败</i></div>
<div class="l" style="left:2245px;width:300px;top:3074px;background:#e3e1e6"></div>
<div class="c" style="left:2547px;width:183px;top:3018px;background:#bae67e"><i>解锁</i>(<b>US</b>)</div>
<div class="l" style="left:2547px;width:183px;top:3074px;background:#e3e1e6"></div>
<div class="c" style="left:2px;width:108px;top:3076px">52</div>
<div class="l" style="left:2px;width:108px;top:3132px;background:#dedede"></div>
<div class="c n" style="left:112px;width:465px;top:3076px;padding-left:18px;width:447px"><i>美国</i>07-1X<i>倍率</i></div>
<div class="l" style="left:112px;width:465px;top:3132px;background:#dedede"></div>
<div class="c" style="left:579px;width:143px;top:3076px">Trojan</div>
<div class="l" style="left:579px;width:143px;top:3132px;background:#dedede"></div>
<div class="c" style="left:724px;width:166px;top:3076px;background:#acf1cd">261ms</div>
<div class="l" style="left:724px;width:166px;top:3132px;background:#e3e1e6"></div>
<div class="c" style="left:892px;width:213px;top:3076px;background:#74bd92">1344ms</div>
<div class="l" style="left:892px;width:213px;top:3132px;background:#e3e1e6"></div>
<div class="c" style="left:1107px;width:202px;top:3076px;background:#ffbac2">28.83MB</div>
<div class="l" style="left:1107px;width:202px;top:3132px;background:#e3e1e6"></div>
<div class="c" style="left:1311px;width:202px;top:3076px;background:#ffa7be">45.25MB</div>
<div class="l" style="left:1311px;width:202px;top:3132px;background:#e3e1e6"></div>
<div class="c" style="left:1515px;width:176px;top:3076px">
<div class="b" style="left:0px;width:29px;height:17px;background:#ffc9c6"></div>
<div class="b" style="left:29px;width:29px;height:41px;background:#ffb1c0"></div>
<div class="b" style="left:58px;width:29px;height:50px;background:#ffa8be"></div>
<div class="b" style="left:87px;width:29px;height:45px;background:#ffadbf"></div>
<div class="b" style="left:116px;width:29px;height:18px;background:#ffc8c6"></div>
<div class="b" style="left:145px;width:31px;height:20px;background:#ffc6c5"></div>
</div>
<div class="l" style="left:1515px;width:176px;top:3132px;background:#e3e1e6"></div>
<div class="c" style="left:1693px;width:178px;top:3076px;background:#bae67e"><i>解锁</i>(<b>US</b>)</div>
<div class="l" style="left:1693px;width:178px;top:3132px;background:#e3e1e6"></div>
<div class="c" style="left:1873px;width:184px;top:3076px;background:#bae67e"><i>解锁</i>(<b>US</b>)</div>
<div class="l" style="left:1873px;width:184px;top:3132px;background:#e3e1e6"></div>
<div class="c" style="left:2059px;width:184px;top:3076px;background:#bae67e"><i>解锁</i>(<b>US</b>)</div>
<div class="l" style="left:2059px;width:184px;top:3132px;background:#e3e1e6"></div>
<div class="c" style="left:2245px;width:300px;top:3076px;background:#ee6b73"><i>失败</i></div>
<div class="l" style="left:2245px;width:300px;top:3132px;background:#e3e1e6"></div>
<div class="c" style="left:2547px;width:183px;top:3076px;background:#bae67e"><i>解锁</i>(<b>US</b>)</div>
<div class="l" style="left:2547px;width:183px;top:3132px;background:#e3e1e6"></div>
<div class="c" style="left:2px;width:108px;top:3134px">53</div>
<div class="l" style="left:2px;width:108px;top:3190px;background:#dedede"></div>
<div class="c n" style="left:112px;width:465px;top:3134px;padding-left:18px;width:447px"><i>美国</i>08-1X<i>倍率</i></div>
<div class="l" style="left:112px;width:465px;top:3190px;background:#dedede"></div>
<div class="c" style="left:579px;width:143px;top:3134px">Trojan</div>
<div class="l" style="left:579px;width:143px;top:3190px;background:#dedede"></div>
<div class="c" style="left:724px;width:166px;top:3134px;background:#adf2ce">238ms</div>
<div class="l" style="left:724px;width:166px;top:3190px;background:#e3e1e6"></div>
<div class="c" style="left:892px;width:213px;top:3134px;background:#509c6e">2017ms</div>
<div class="l" style="left:892px;width:213px;top:3190px;background:#e3e1e6"></div>
<div class="c" style="left:1107px;width:202px;top:3134px;background:#ffc7c5">16.72MB</div>
<div class="l" style="left:1107px;width:202px;top:3190px;background:#e3e1e6"></div>
<div class="c" style="left:1311px;width:202px;top:3134px;background:#ffa9be">43.62MB</div>
<div class="l" style="left:1311px;width:202px;top:3190px;background:#e3e1e6"></div>
<div class="c" style="left:1515px;width:176px;top:3134px">
<div class="b" style="left:0px;width:29px;height:17px;background:#ffc9c6"></div>
<div class="b" style="left:29px;width:29px;height:48px;background:#ffaabe"></div>
<div class="b" style="left:58px;width:29px;height:13px;background:#ffcdc7"></div>
<div class="b" style="left:87px;width:29px;height:8px;background:#ffd2c8"></div>
<div class="b" style="left:116px;width:29px;height:12px;background:#ffcec7"></div>
<div class="b" style="left:145px;width:31px;height:11px;background:#ffcfc7"></div>
</div>
<div class="l" style="left:1515px;width:176px;top:3190px;background:#e3e1e6"></div>
<div class="c" style="left:1693px;width:178px;top:3134px;background:#bae67e"><i>解锁</i>(<b>US</b>)</div>
<div class="l" style="left:1693px;width:178px;top:3190px;background:#e3e1e6"></div>
<div class="c" style="left:1873px;width:184px;top:3134px;background:#bae67e"><i>解锁</i>(<b>US</b>)</div>
<div class="l" style="left:1873px;width:184px;top:3190px;background:#e3e1e6"></div>
<div class="c" style="left:2059px;width:184px;top:3134px;background:#bae67e"><i>解锁</i>(<b>US</b>)</div>
<div class="l" style="left:2059px;width:184px;top:3190px;background:#e3e1e6"></div>
<div class="c" style="left:2245px;width:300px;top:3134px;background:#ee6b73"><i>失败</i></div>
<div class="l" style="left:2245px;width:300px;top:3190px;background:#e3e1e6"></div>
<div class="c" style="left:2547px;width:183px;top:3134px;background:#bae67e"><i>解锁</i>(<b>US</b>)</div>
<div class="l" style="left:2547px;width:183px;top:3190px;background:#e3e1e6"></div>
<div class="c" style="left:2px;width:108px;top:3192px">54</div>
<div class="l" style="left:2px;width:108px;top:3248px;background:#dedede"></div>
<div class="c n" style="left:112px;width:465px;top:3192px;padding-left:18px;width:447px"><i>美国</i>09-1X<i>倍率</i></div>
<div class="l" style="left:112px;width:465px;top:3248px;background:#dedede"></div>
<div class="c" style="left:579px;width:143px;top:3192px">Trojan</div>
<div class="l" style="left:579px;width:143px;top:3248px;background:#dedede"></div>
<div class="c" style="left:724px;width:166px;top:3192px;background:#adf2cd">249ms</div>
<div class="l" style="left:724px;width:166px;top:3248px;background:#e3e1e6"></div>
<div class="c" style="left:892px;width:213px;top:3192px;background:#72bb90">1384ms</div>
<div class="l" style="left:892px;width:213px;top:3248px;background:#e3e1e6"></div>
<div class="c" style="left:1107px;width:202px;top:3192px;background:#ffc6c5">18.04MB</div>
<div class="l" style="left:1107px;width:202px;top:3248px;background:#e3e1e6"></div>
<div class="c" style="left:1311px;width:202px;top:3192px;background:#ff9ebb">53.91MB</div>
<div class="l" style="left:1311px;width:202px;top:3248px;background:#e3e1e6"></div>
<div class="c" style="left:1515px;width:176px;top:3192px">
<div class="b" style="left:0px;width:29px;height:11px;background:#ffcec7"></div>
<div class="b" style="left:29px;width:29px;height:56px;background:#ff9ebb"></div>
<div class="b" style="left:58px;width:29px;height:7px;background:#ffd3c8"></div>
<div class="b" style="left:87px;width:29px;height:16px;background:#ffc9c6"></div>
<div class="b" style="left:116px;width:29px;height:11px;background:#ffcec7"></div>
<div class="b" style="left:145px;width:31px;height:9px;background:#ffd0c8"></div>
</div>
<div class="l" style="left:1515px;width:176px;top:3248px;background:#e3e1e6"></div>
<div class="c" style="left:1693px;width:178px;top:3192px;background:#bae67e"><i>解锁</i>(<b>US</b>)</div>
<div class="l" style="left:1693px;width:178px;top:3248px;background:#e3e1e6"></div>
<div class="c" style="left:1873px;width:184px;top:3192px;background:#bae67e"><i>解锁</i>(<b>US</b>)</div>
<div class="l" style="left:1873px;width:184px;top:3248px;background:#e3e1e6"></div>
<div class="c" style="left:2059px;width:184px;top:3192px;background:#bae67e"><i>解锁</i>(<b>US</b>)</div>
<div class="l" style="left:2059px;width:184px;top:3248px;background:#e3e1e6"></div>
<div class="c" style="left:2245px;width:300px;top:3192px;background:#ee6b73"><i>失败</i></div>
<div class="l" style="left:2245px;width:300px;top:3248px;background:#e3e1e6"></div>
<div class="c" style="left:2547px;width:183px;top:3192px;background:#bae67e"><i>解锁</i>(<b>US</b>)</div>
<div class="l" style="left:2547px;width:183px;top:3248px;background:#e3e1e6"></div>
<div class="c" style="left:2px;width:108px;top:3250px">55</div>
<div class="l" style="left:2px;width:108px;top:3306px;background:#dedede"></div>
<div class="c n" style="left:112px;width:465px;top:3250px;padding-left:18px;width:447px"><i>美国</i>10-1X<i>倍率</i></div>
<div class="l" style="left:112px;width:465px;top:3306px;background:#dedede"></div>
<div class="c" style="left:579px;width:143px;top:3250px">Trojan</div>
<div class="l" style="left:579px;width:143px;top:3306px;background:#dedede"></div>
<div class="c" style="left:724px;width:166px;top:3250px;background:#adf1cd">250ms</div>
<div class="l" style="left:724px;width:166px;top:3306px;background:#e3e1e6"></div>
<div class="c" style="left:892px;width:213px;top:3250px;background:#87cea5">1007ms</div>
<div class="l" style="left:892px;width:213px;top:3306px;background:#e3e1e6"></div>
<div class="c" style="left:1107px;width:202px;top:3250px;background:#ffaebf">39.55MB</div>
<div class="l" style="left:1107px;width:202px;top:3306px;background:#e3e1e6"></div>
<div class="c" style="left:1311px;width:202px;top:3250px;background:#ff91b8">65.53MB</div>
<div class="l" style="left:1311px;width:202px;top:3306px;background:#e3e1e6"></div>
<div class="c" style="left:1515px;width:176px;top:3250px">
<div class="b" style="left:0px;width:29px;height:34px;background:#ffaebf"></div>
<div class="b" style="left:29px;width:29px;height:56px;background:#ff91b8"></div>
<div class="b" style="left:58px;width:29px;height:47px;background:#ff9dbb"></div>
<div class="b" style="left:87px;width:29px;height:45px;background:#ff9fbc"></div>
<div class="b" style="left:116px;width:29px;height:19px;background:#ffc1c4"></div>
</div>
<div class="l" style="left:1515px;width:176px;top:3306px;background:#e3e1e6"></div>
<div class="c" style="left:1693px;width:178px;top:3250px;background:#bae67e"><i>解锁</i>(<b>US</b>)</div>
<div class="l" style="left:1693px;width:178px;top:3306px;background:#e3e1e6"></div>
<div class="c" style="left:1873px;width:184px;top:3250px;background:#bae67e"><i>解锁</i>(<b>US</b>)</div>
<div class="l" style="left:1873px;width:184px;top:3306px;background:#e3e1e6"></div>
<div class="c" style="left:2059px;width:184px;top:3250px;background:#bae67e"><i>解锁</i>(<b>US</b>)</div>
<div class="l" style="left:2059px;width:184px;top:3306px;background:#e3e1e6"></div>
<div class="c" style="left:2245px;width:300px;top:3250px;background:#ee6b73"><i>失败</i></div>
<div class="l" style="left:2245px;width:300px;top:3306px;background:#e3e1e6"></div>
<div class="c" style="left:2547px;width:183px;top:3250px;background:#bae67e"><i>解锁</i>(<b>US</b>)</div>
<div class="l" style="left:2547px;width:183px;top:3306px;background:#e3e1e6"></div>
<div class="c" style="left:2px;width:108px;top:3308px">56</div>
<div class="l" style="left:2px;width:108px;top:3364px;background:#dedede"></div>
<div class="c n" style="left:112px;width:465px;top:3308px;padding-left:18px;width:447px"><i>马来西亚</i>01-1X<i>倍率</i>-<b>TK</b><i>专线</i></div>
<div class="l" style="left:112px;width:465px;top:3364px;background:#dedede"></div>
<div class="c" style="left:579px;width:143px;top:3308px">Trojan</div>
<div class="l" style="left:579px;width:143px;top:3364px;background:#dedede"></div>
<div class="c" style="left:724px;width:166px;top:3308px;background:#a9eec9">337ms</div>
<div class="l" style="left:724px;width:166px;top:3364px;background:#e3e1e6"></div>
<div class="c" style="left:892px;width:213px;top:3308px;background:#79c297">1253ms</div>
<div class="l" style="left:892px;width:213px;top:3364px;background:#e3e1e6"></div>
<div class="c" style="left:1107px;width:202px;top:3308px;background:#ffd4c8">5.77MB</div>
<div class="l" style="left:1107px;width:202px;top:3364px;background:#e3e1e6"></div>
<div class="c" style="left:1311px;width:202px;top:3308px;background:#ffcdc7">11.34MB</div>
<div class="l" style="left:1311px;width:202px;top:3364px;background:#e3e1e6"></div>
<div class="c" style="left:1515px;width:176px;top:3308px">
<div class="b" style="left:0px;width:29px;height:12px;background:#ffcec7"></div>
<div class="b" style="left:29px;width:29px;height:8px;background:#ffd2c8"></div>
<div class="b" style="left:58px;width:29px;height:9px;background:#ffd1c8"></div>
<div class="b" style="left:87px;width:29px;height:8px;background:#ffd2c8"></div>
</div>
<div class="l" style="left:1515px;width:176px;top:3364px;background:#e3e1e6"></div>
<div class="c" style="left:1693px;width:178px;top:3308px;background:#bae67e"><i>解锁</i>(<b>HK</b>)</div>
<div class="l" style="left:1693px;width:178px;top:3364px;background:#e3e1e6"></div>
<div class="c" style="left:1873px;width:184px;top:3308px;background:#bae67e"><i>解锁</i>(<b>HK</b>)</div>
<div class="l" style="left:1873px;width:184px;top:3364px;background:#e3e1e6"></div>
<div class="c" style="left:2059px;width:184px;top:3308px;background:#bae67e"><i>解锁</i>(<b>MY</b>)</div>
<div class="l" style="left:2059px;width:184px;top:3364px;background:#e3e1e6"></div>
<div class="c" style="left:2245px;width:300px;top:3308px;background:#ee6b73"><i>失败</i></div>
<div class="l" style="left:2245px;width:300px;top:3364px;background:#e3e1e6"></div>
<div class="c" style="left:2547px;width:183px;top:3308px;background:#bae67e"><i>解锁</i>(<b>MY</b>)</div>
<div class="l" style="left:2547px;width:183px;top:3364px;background:#e3e1e6"></div>
<div class="c" style="left:2px;width:108px;top:3366px">57</div>
<div class="l" style="left:2px;width:108px;top:3422px;background:#dedede"></div>
<div class="c n" style="left:112px;width:465px;top:3366px;padding-left:18px;width:447px"><i>马来西亚</i>02-1X<i>倍率</i>-<b>TK</b><i>专线</i></div>
<div class="l" style="left:112px;width:465px;top:3422px;background:#dedede"></div>
<div class="c" style="left:579px;width:143px;top:3366px">Trojan</div>
<div class="l" style="left:579px;width:143px;top:3422px;background:#dedede"></div>
<div class="c" style="left:724px;width:166px;top:3366px;background:#aef2ce">231ms</div>
<div class="l" style="left:724px;width:166px;top:3422px;background:#e3e1e6"></div>
<div class="c" style="left:892px;width:213px;top:3366px;background:#64ae82">1651ms</div>
<div class="l" style="left:892px;width:213px;top:3422px;background:#e3e1e6"></div>
<div class="c" style="left:1107px;width:202px;top:3366px;background:#ffd1c8">8.11MB</div>
<div class="l" style="left:1107px;width:202px;top:3422px;background:#e3e1e6"></div>
<div class="c" style="left:1311px;width:202px;top:3366px;background:#ffcbc6">13.50MB</div>
<div class="l" style="left:1311px;width:202px;top:3422px;background:#e3e1e6"></div>
<div class="c" style="left:1515px;width:176px;top:3366px">
<div class="b" style="left:0px;width:29px;height:15px;background:#ffcbc6"></div>
<div class="b" style="left:29px;width:29px;height:11px;background:#ffcfc7"></div>
<div class="b" style="left:58px;width:29px;height:12px;background:#ffcec7"></div>
<div class="b" style="left:87px;width:29px;height:12px;background:#ffcec7"></div>
<div class="b" style="left:116px;width:29px;height:2px;background:#ffd8ca"></div>
</div>
<div class="l" style="left:1515px;width:176px;top:3422px;background:#e3e1e6"></div>
<div class="c" style="left:1693px;width:178px;top:3366px;background:#bae67e"><i>解锁</i>(<b>HK</b>)</div>
<div class="l" style="left:1693px;width:178px;top:3422px;background:#e3e1e6"></div>
<div class="c" style="left:1873px;width:184px;top:3366px;background:#bae67e"><i>解锁</i>(<b>HK</b>)</div>
<div class="l" style="left:1873px;width:184px;top:3422px;background:#e3e1e6"></div>
<div class="c" style="left:2059px;width:184px;top:3366px;background:#bae67e"><i>解锁</i>(<b>MY</b>)</div>
<div class="l" style="left:2059px;width:184px;top:3422px;background:#e3e1e6"></div>
<div class="c" style="left:2245px;width:300px;top:3366px;background:#ee6b73"><i>失败</i></div>
<div class="l" style="left:2245px;width:300px;top:3422px;background:#e3e1e6"></div>
<div class="c" style="left:2547px;width:183px;top:3366px;background:#bae67e"><i>解锁</i>(<b>MY</b>)</div>
<div class="l" style="left:2547px;width:183px;top:3422px;background:#e3e1e6"></div>
<div class="c n f" style="left:20px;top:3424px;letter-spacing:0.4px"><span style="display:inline-block;width:52px"></span><i>已核实</i> <u>TLS</u> <i>证书。</i><u><u>TLS RTT</u></u> <i>为单次数据交换延迟，</i> <u>HTTPS</u> Ping <i>为单次请求体感延迟。</i></div>
<div class="c n f" style="left:20px;top:3482px;letter-spacing:0.75px"><i>主端</i>=4.3.3 (696) <i>喵速</i>=5.0.0-beta4 (<span style="display:inline-block;width:8px;height:20px;border:1.2px solid #444;margin:0 1px;vertical-align:-2px"></span><i>东北</i>-<i>辽宁电信</i> [2Gbps]), <i>线程</i>=8 <i>概要</i>=57/57 <i>排序</i>=<i>订阅原序</i> <i>过滤器</i>=</div>
<div class="c n f" style="left:20px;top:3540px;letter-spacing:0.27px"><i>测试时间：</i>2025-12-05 18:05:26 (CST)<i>，本测试为试验性结果，仅供参考。</i></div>
<div class="l" style="left:2px;width:2728px;top:3480px"></div>
<div class="l" style="left:2px;width:2728px;top:3538px"></div>
<div style="left:26px;top:3438px;width:28px;height:28px;border-radius:4px;background:#6bb04a"><svg width="28" height="28" viewBox="0 0 28 28" style="position:absolute;left:0;top:0"><path d="M6 14.5 L11.5 20.5 L22.5 7.5" fill="none" stroke="#fff" stroke-width="3.6" stroke-linecap="square"/></svg></div>
<svg width="2732" height="3598" style="position:absolute;left:0;top:0" font-family="Liberation Sans, sans-serif" font-size="88" fill="rgba(0,0,0,.18)">
<g transform="translate(875.4 76.2) rotate(-15.4)"><text x="-6" textLength="282" lengthAdjust="spacingAndGlyphs">FFQ.LA</text><text x="293" textLength="250" lengthAdjust="spacingAndGlyphs">Public</text><text x="596" textLength="140" lengthAdjust="spacingAndGlyphs">Test</text><text x="766" textLength="273" lengthAdjust="spacingAndGlyphs">Center</text></g>
<g transform="translate(874.7 386.6) rotate(-15.4)"><text x="-6" textLength="282" lengthAdjust="spacingAndGlyphs">FFQ.LA</text><text x="293" textLength="250" lengthAdjust="spacingAndGlyphs">Public</text><text x="596" textLength="140" lengthAdjust="spacingAndGlyphs">Test</text><text x="766" textLength="273" lengthAdjust="spacingAndGlyphs">Center</text></g>
<g transform="translate(874.0 697.0) rotate(-15.4)"><text x="-6" textLength="282" lengthAdjust="spacingAndGlyphs">FFQ.LA</text><text x="293" textLength="250" lengthAdjust="spacingAndGlyphs">Public</text><text x="596" textLength="140" lengthAdjust="spacingAndGlyphs">Test</text><text x="766" textLength="273" lengthAdjust="spacingAndGlyphs">Center</text></g>
<g transform="translate(873.3 1007.4) rotate(-15.4)"><text x="-6" textLength="282" lengthAdjust="spacingAndGlyphs">FFQ.LA</text><text x="293" textLength="250" lengthAdjust="spacingAndGlyphs">Public</text><text x="596" textLength="140" lengthAdjust="spacingAndGlyphs">Test</text><text x="766" textLength="273" lengthAdjust="spacingAndGlyphs">Center</text></g>
<g transform="translate(872.6 1317.8) rotate(-15.4)"><text x="-6" textLength="282" lengthAdjust="spacingAndGlyphs">FFQ.LA</text><text x="293" textLength="250" lengthAdjust="spacingAndGlyphs">Public</text><text x="596" textLength="140" lengthAdjust="spacingAndGlyphs">Test</text><text x="766" textLength="273" lengthAdjust="spacingAndGlyphs">Center</text></g>
<g transform="translate(871.9 1628.2) rotate(-15.4)"><text x="-6" textLength="282" lengthAdjust="spacingAndGlyphs">FFQ.LA</text><text x="293" textLength="250" lengthAdjust="spacingAndGlyphs">Public</text><text x="596" textLength="140" lengthAdjust="spacingAndGlyphs">Test</text><text x="766" textLength="273" lengthAdjust="spacingAndGlyphs">Center</text></g>
<g transform="translate(871.2 1938.6) rotate(-15.4)"><text x="-6" textLength="282" lengthAdjust="spacingAndGlyphs">FFQ.LA</text><text x="293" textLength="250" lengthAdjust="spacingAndGlyphs">Public</text><text x="596" textLength="140" lengthAdjust="spacingAndGlyphs">Test</text><text x="766" textLength="273" lengthAdjust="spacingAndGlyphs">Center</text></g>
<g transform="translate(870.5 2249.0) rotate(-15.4)"><text x="-6" textLength="282" lengthAdjust="spacingAndGlyphs">FFQ.LA</text><text x="293" textLength="250" lengthAdjust="spacingAndGlyphs">Public</text><text x="596" textLength="140" lengthAdjust="spacingAndGlyphs">Test</text><text x="766" textLength="273" lengthAdjust="spacingAndGlyphs">Center</text></g>
<g transform="translate(869.8 2559.4) rotate(-15.4)"><text x="-6" textLength="282" lengthAdjust="spacingAndGlyphs">FFQ.LA</text><text x="293" textLength="250" lengthAdjust="spacingAndGlyphs">Public</text><text x="596" textLength="140" lengthAdjust="spacingAndGlyphs">Test</text><text x="766" textLength="273" lengthAdjust="spacingAndGlyphs">Center</text></g>
<g transform="translate(869.1 2869.8) rotate(-15.4)"><text x="-6" textLength="282" lengthAdjust="spacingAndGlyphs">FFQ.LA</text><text x="293" textLength="250" lengthAdjust="spacingAndGlyphs">Public</text><text x="596" textLength="140" lengthAdjust="spacingAndGlyphs">Test</text><text x="766" textLength="273" lengthAdjust="spacingAndGlyphs">Center</text></g>
<g transform="translate(868.4 3180.2) rotate(-15.4)"><text x="-6" textLength="282" lengthAdjust="spacingAndGlyphs">FFQ.LA</text><text x="293" textLength="250" lengthAdjust="spacingAndGlyphs">Public</text><text x="596" textLength="140" lengthAdjust="spacingAndGlyphs">Test</text><text x="766" textLength="273" lengthAdjust="spacingAndGlyphs">Center</text></g>
<g transform="translate(867.7 3490.6) rotate(-15.4)"><text x="-6" textLength="282" lengthAdjust="spacingAndGlyphs">FFQ.LA</text><text x="293" textLength="250" lengthAdjust="spacingAndGlyphs">Public</text><text x="596" textLength="140" lengthAdjust="spacingAndGlyphs">Test</text><text x="766" textLength="273" lengthAdjust="spacingAndGlyphs">Center</text></g>
</svg>
</div></body></html>
